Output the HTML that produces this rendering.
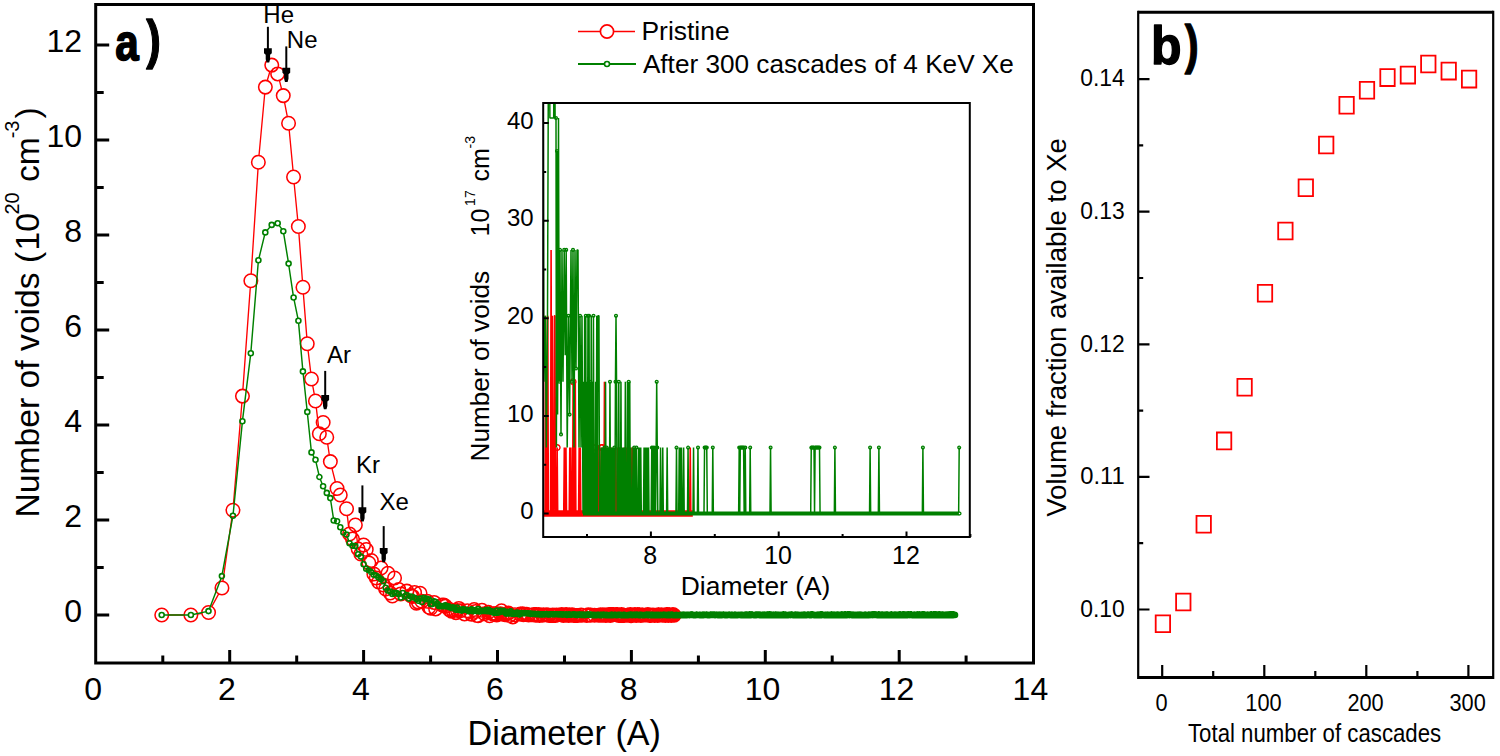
<!DOCTYPE html>
<html><head><meta charset="utf-8"><style>html,body{margin:0;padding:0;background:#fff;width:1500px;height:756px;overflow:hidden}</style></head>
<body>
<svg width="1500" height="756" viewBox="0 0 1500 756" style="display:block;font-family:'Liberation Sans',sans-serif">
<rect width="1500" height="756" fill="#fff"/>
<path d="M168.4 615.0L184.2 615.0M197.5 614.1L201.9 613.4M211.7 606.6L218.7 593.9M222.9 581.4L232.0 516.9M233.5 503.6L241.9 402.8M242.9 389.4L250.3 287.4M251.2 274.0L258.0 168.9M259.0 155.5L264.7 93.8M267.2 80.7L269.9 71.5M279.4 80.4L281.6 89.1M284.5 102.2L287.3 116.7M289.2 130.0L293.0 170.3M294.2 183.7L297.7 219.8M298.9 233.2L302.4 280.5M303.4 293.9L306.8 337.1M308.1 350.5L310.7 372.3M312.7 385.6L314.3 394.4M316.3 407.7L318.6 427.1M324.7 429.0L325.2 430.8M327.7 443.9L329.3 455.0M331.9 468.1L335.4 482.0M343.1 501.1L343.8 502.6M347.3 515.4L348.7 527.3M353.8 532.4L354.0 531.6M356.1 531.7L357.4 542.3M367.5 556.1L367.5 556.4M372.6 567.1L372.6 567.4M379.8 575.4L379.9 574.6M382.0 574.6L382.5 578.4M386.6 582.4L387.0 579.9M388.7 580.0L389.4 586.3M393.1 589.3L393.7 584.7" stroke="#ff0000" stroke-width="1.35" fill="none"/>
<path d="M155.0 615.0a6.75 6.75 0 1 0 13.5 0a6.75 6.75 0 1 0 -13.5 0M184.1 615.0a6.75 6.75 0 1 0 13.5 0a6.75 6.75 0 1 0 -13.5 0M201.8 612.5a6.75 6.75 0 1 0 13.5 0a6.75 6.75 0 1 0 -13.5 0M215.2 588.0a6.75 6.75 0 1 0 13.5 0a6.75 6.75 0 1 0 -13.5 0M226.2 510.3a6.75 6.75 0 1 0 13.5 0a6.75 6.75 0 1 0 -13.5 0M235.7 396.1a6.75 6.75 0 1 0 13.5 0a6.75 6.75 0 1 0 -13.5 0M244.1 280.7a6.75 6.75 0 1 0 13.5 0a6.75 6.75 0 1 0 -13.5 0M251.6 162.2a6.75 6.75 0 1 0 13.5 0a6.75 6.75 0 1 0 -13.5 0M258.6 87.1a6.75 6.75 0 1 0 13.5 0a6.75 6.75 0 1 0 -13.5 0M265.0 65.1a6.75 6.75 0 1 0 13.5 0a6.75 6.75 0 1 0 -13.5 0M270.9 73.9a6.75 6.75 0 1 0 13.5 0a6.75 6.75 0 1 0 -13.5 0M276.5 95.6a6.75 6.75 0 1 0 13.5 0a6.75 6.75 0 1 0 -13.5 0M281.8 123.3a6.75 6.75 0 1 0 13.5 0a6.75 6.75 0 1 0 -13.5 0M286.8 177.0a6.75 6.75 0 1 0 13.5 0a6.75 6.75 0 1 0 -13.5 0M291.6 226.5a6.75 6.75 0 1 0 13.5 0a6.75 6.75 0 1 0 -13.5 0M296.2 287.2a6.75 6.75 0 1 0 13.5 0a6.75 6.75 0 1 0 -13.5 0M300.5 343.8a6.75 6.75 0 1 0 13.5 0a6.75 6.75 0 1 0 -13.5 0M304.7 379.0a6.75 6.75 0 1 0 13.5 0a6.75 6.75 0 1 0 -13.5 0M308.7 401.0a6.75 6.75 0 1 0 13.5 0a6.75 6.75 0 1 0 -13.5 0M312.6 433.8a6.75 6.75 0 1 0 13.5 0a6.75 6.75 0 1 0 -13.5 0M316.4 422.5a6.75 6.75 0 1 0 13.5 0a6.75 6.75 0 1 0 -13.5 0M320.0 437.3a6.75 6.75 0 1 0 13.5 0a6.75 6.75 0 1 0 -13.5 0M323.6 461.6a6.75 6.75 0 1 0 13.5 0a6.75 6.75 0 1 0 -13.5 0M330.3 488.5a6.75 6.75 0 1 0 13.5 0a6.75 6.75 0 1 0 -13.5 0M333.5 495.0a6.75 6.75 0 1 0 13.5 0a6.75 6.75 0 1 0 -13.5 0M339.8 508.7a6.75 6.75 0 1 0 13.5 0a6.75 6.75 0 1 0 -13.5 0M342.8 534.0a6.75 6.75 0 1 0 13.5 0a6.75 6.75 0 1 0 -13.5 0M345.7 539.0a6.75 6.75 0 1 0 13.5 0a6.75 6.75 0 1 0 -13.5 0M348.6 525.0a6.75 6.75 0 1 0 13.5 0a6.75 6.75 0 1 0 -13.5 0M351.4 549.0a6.75 6.75 0 1 0 13.5 0a6.75 6.75 0 1 0 -13.5 0M354.1 554.0a6.75 6.75 0 1 0 13.5 0a6.75 6.75 0 1 0 -13.5 0M356.8 545.0a6.75 6.75 0 1 0 13.5 0a6.75 6.75 0 1 0 -13.5 0M359.5 549.5a6.75 6.75 0 1 0 13.5 0a6.75 6.75 0 1 0 -13.5 0M362.1 563.0a6.75 6.75 0 1 0 13.5 0a6.75 6.75 0 1 0 -13.5 0M364.6 560.5a6.75 6.75 0 1 0 13.5 0a6.75 6.75 0 1 0 -13.5 0M367.1 574.0a6.75 6.75 0 1 0 13.5 0a6.75 6.75 0 1 0 -13.5 0M369.5 578.0a6.75 6.75 0 1 0 13.5 0a6.75 6.75 0 1 0 -13.5 0M371.9 582.0a6.75 6.75 0 1 0 13.5 0a6.75 6.75 0 1 0 -13.5 0M374.3 568.0a6.75 6.75 0 1 0 13.5 0a6.75 6.75 0 1 0 -13.5 0M376.6 585.0a6.75 6.75 0 1 0 13.5 0a6.75 6.75 0 1 0 -13.5 0M378.9 589.0a6.75 6.75 0 1 0 13.5 0a6.75 6.75 0 1 0 -13.5 0M381.2 573.3a6.75 6.75 0 1 0 13.5 0a6.75 6.75 0 1 0 -13.5 0M383.4 593.0a6.75 6.75 0 1 0 13.5 0a6.75 6.75 0 1 0 -13.5 0M385.6 596.0a6.75 6.75 0 1 0 13.5 0a6.75 6.75 0 1 0 -13.5 0M387.8 578.0a6.75 6.75 0 1 0 13.5 0a6.75 6.75 0 1 0 -13.5 0M392.0 589.5a6.75 6.75 0 1 0 13.5 0a6.75 6.75 0 1 0 -13.5 0M394.0 593.9a6.75 6.75 0 1 0 13.5 0a6.75 6.75 0 1 0 -13.5 0M400.1 591.1a6.75 6.75 0 1 0 13.5 0a6.75 6.75 0 1 0 -13.5 0M404.0 595.6a6.75 6.75 0 1 0 13.5 0a6.75 6.75 0 1 0 -13.5 0M405.9 596.4a6.75 6.75 0 1 0 13.5 0a6.75 6.75 0 1 0 -13.5 0M407.8 592.5a6.75 6.75 0 1 0 13.5 0a6.75 6.75 0 1 0 -13.5 0M409.7 603.3a6.75 6.75 0 1 0 13.5 0a6.75 6.75 0 1 0 -13.5 0M411.5 602.1a6.75 6.75 0 1 0 13.5 0a6.75 6.75 0 1 0 -13.5 0M413.3 593.3a6.75 6.75 0 1 0 13.5 0a6.75 6.75 0 1 0 -13.5 0M415.1 601.3a6.75 6.75 0 1 0 13.5 0a6.75 6.75 0 1 0 -13.5 0M420.4 601.2a6.75 6.75 0 1 0 13.5 0a6.75 6.75 0 1 0 -13.5 0M422.2 607.3a6.75 6.75 0 1 0 13.5 0a6.75 6.75 0 1 0 -13.5 0M423.9 608.3a6.75 6.75 0 1 0 13.5 0a6.75 6.75 0 1 0 -13.5 0M427.3 602.4a6.75 6.75 0 1 0 13.5 0a6.75 6.75 0 1 0 -13.5 0M428.9 608.9a6.75 6.75 0 1 0 13.5 0a6.75 6.75 0 1 0 -13.5 0M435.4 605.0a6.75 6.75 0 1 0 13.5 0a6.75 6.75 0 1 0 -13.5 0M437.0 604.9a6.75 6.75 0 1 0 13.5 0a6.75 6.75 0 1 0 -13.5 0M438.6 606.1a6.75 6.75 0 1 0 13.5 0a6.75 6.75 0 1 0 -13.5 0M441.7 608.8a6.75 6.75 0 1 0 13.5 0a6.75 6.75 0 1 0 -13.5 0M443.2 610.1a6.75 6.75 0 1 0 13.5 0a6.75 6.75 0 1 0 -13.5 0M444.7 611.3a6.75 6.75 0 1 0 13.5 0a6.75 6.75 0 1 0 -13.5 0M446.2 610.4a6.75 6.75 0 1 0 13.5 0a6.75 6.75 0 1 0 -13.5 0M449.2 612.6a6.75 6.75 0 1 0 13.5 0a6.75 6.75 0 1 0 -13.5 0M450.7 610.4a6.75 6.75 0 1 0 13.5 0a6.75 6.75 0 1 0 -13.5 0M452.1 608.4a6.75 6.75 0 1 0 13.5 0a6.75 6.75 0 1 0 -13.5 0M453.6 610.8a6.75 6.75 0 1 0 13.5 0a6.75 6.75 0 1 0 -13.5 0M457.8 613.9a6.75 6.75 0 1 0 13.5 0a6.75 6.75 0 1 0 -13.5 0M460.6 610.8a6.75 6.75 0 1 0 13.5 0a6.75 6.75 0 1 0 -13.5 0M464.7 614.1a6.75 6.75 0 1 0 13.5 0a6.75 6.75 0 1 0 -13.5 0M467.4 609.5a6.75 6.75 0 1 0 13.5 0a6.75 6.75 0 1 0 -13.5 0M468.7 611.4a6.75 6.75 0 1 0 13.5 0a6.75 6.75 0 1 0 -13.5 0M470.1 615.5a6.75 6.75 0 1 0 13.5 0a6.75 6.75 0 1 0 -13.5 0M471.4 615.7a6.75 6.75 0 1 0 13.5 0a6.75 6.75 0 1 0 -13.5 0M475.2 610.3a6.75 6.75 0 1 0 13.5 0a6.75 6.75 0 1 0 -13.5 0M477.8 613.8a6.75 6.75 0 1 0 13.5 0a6.75 6.75 0 1 0 -13.5 0M481.5 612.2a6.75 6.75 0 1 0 13.5 0a6.75 6.75 0 1 0 -13.5 0M482.8 615.7a6.75 6.75 0 1 0 13.5 0a6.75 6.75 0 1 0 -13.5 0M485.2 613.5a6.75 6.75 0 1 0 13.5 0a6.75 6.75 0 1 0 -13.5 0M486.4 614.0a6.75 6.75 0 1 0 13.5 0a6.75 6.75 0 1 0 -13.5 0M487.7 614.2a6.75 6.75 0 1 0 13.5 0a6.75 6.75 0 1 0 -13.5 0M488.9 613.6a6.75 6.75 0 1 0 13.5 0a6.75 6.75 0 1 0 -13.5 0M490.0 614.9a6.75 6.75 0 1 0 13.5 0a6.75 6.75 0 1 0 -13.5 0M493.6 613.8a6.75 6.75 0 1 0 13.5 0a6.75 6.75 0 1 0 -13.5 0M494.7 610.8a6.75 6.75 0 1 0 13.5 0a6.75 6.75 0 1 0 -13.5 0M495.9 614.2a6.75 6.75 0 1 0 13.5 0a6.75 6.75 0 1 0 -13.5 0M498.2 614.6a6.75 6.75 0 1 0 13.5 0a6.75 6.75 0 1 0 -13.5 0M500.5 613.7a6.75 6.75 0 1 0 13.5 0a6.75 6.75 0 1 0 -13.5 0M501.6 613.1a6.75 6.75 0 1 0 13.5 0a6.75 6.75 0 1 0 -13.5 0M502.7 615.4a6.75 6.75 0 1 0 13.5 0a6.75 6.75 0 1 0 -13.5 0M506.0 616.9a6.75 6.75 0 1 0 13.5 0a6.75 6.75 0 1 0 -13.5 0M508.2 614.7a6.75 6.75 0 1 0 13.5 0a6.75 6.75 0 1 0 -13.5 0M513.6 614.1a6.75 6.75 0 1 0 13.5 0a6.75 6.75 0 1 0 -13.5 0M515.7 613.8a6.75 6.75 0 1 0 13.5 0a6.75 6.75 0 1 0 -13.5 0M516.7 614.7a6.75 6.75 0 1 0 13.5 0a6.75 6.75 0 1 0 -13.5 0M519.9 614.2a6.75 6.75 0 1 0 13.5 0a6.75 6.75 0 1 0 -13.5 0M521.9 614.9a6.75 6.75 0 1 0 13.5 0a6.75 6.75 0 1 0 -13.5 0M525.9 614.7a6.75 6.75 0 1 0 13.5 0a6.75 6.75 0 1 0 -13.5 0M526.9 614.4a6.75 6.75 0 1 0 13.5 0a6.75 6.75 0 1 0 -13.5 0M528.9 615.3a6.75 6.75 0 1 0 13.5 0a6.75 6.75 0 1 0 -13.5 0M529.9 614.6a6.75 6.75 0 1 0 13.5 0a6.75 6.75 0 1 0 -13.5 0M531.9 614.6a6.75 6.75 0 1 0 13.5 0a6.75 6.75 0 1 0 -13.5 0M532.8 615.4a6.75 6.75 0 1 0 13.5 0a6.75 6.75 0 1 0 -13.5 0M535.7 615.2a6.75 6.75 0 1 0 13.5 0a6.75 6.75 0 1 0 -13.5 0M536.7 614.8a6.75 6.75 0 1 0 13.5 0a6.75 6.75 0 1 0 -13.5 0M539.5 614.7a6.75 6.75 0 1 0 13.5 0a6.75 6.75 0 1 0 -13.5 0M541.4 614.9a6.75 6.75 0 1 0 13.5 0a6.75 6.75 0 1 0 -13.5 0M542.3 615.5a6.75 6.75 0 1 0 13.5 0a6.75 6.75 0 1 0 -13.5 0M545.1 615.5a6.75 6.75 0 1 0 13.5 0a6.75 6.75 0 1 0 -13.5 0M546.0 614.9a6.75 6.75 0 1 0 13.5 0a6.75 6.75 0 1 0 -13.5 0M546.9 615.5a6.75 6.75 0 1 0 13.5 0a6.75 6.75 0 1 0 -13.5 0M548.8 615.4a6.75 6.75 0 1 0 13.5 0a6.75 6.75 0 1 0 -13.5 0M549.7 615.0a6.75 6.75 0 1 0 13.5 0a6.75 6.75 0 1 0 -13.5 0M554.1 614.7a6.75 6.75 0 1 0 13.5 0a6.75 6.75 0 1 0 -13.5 0M555.0 614.5a6.75 6.75 0 1 0 13.5 0a6.75 6.75 0 1 0 -13.5 0M555.9 615.2a6.75 6.75 0 1 0 13.5 0a6.75 6.75 0 1 0 -13.5 0M556.7 615.5a6.75 6.75 0 1 0 13.5 0a6.75 6.75 0 1 0 -13.5 0M557.6 615.1a6.75 6.75 0 1 0 13.5 0a6.75 6.75 0 1 0 -13.5 0M559.4 614.6a6.75 6.75 0 1 0 13.5 0a6.75 6.75 0 1 0 -13.5 0M561.1 615.0a6.75 6.75 0 1 0 13.5 0a6.75 6.75 0 1 0 -13.5 0M561.9 615.5a6.75 6.75 0 1 0 13.5 0a6.75 6.75 0 1 0 -13.5 0M562.8 614.8a6.75 6.75 0 1 0 13.5 0a6.75 6.75 0 1 0 -13.5 0M564.5 615.0a6.75 6.75 0 1 0 13.5 0a6.75 6.75 0 1 0 -13.5 0M565.3 614.8a6.75 6.75 0 1 0 13.5 0a6.75 6.75 0 1 0 -13.5 0M567.0 615.4a6.75 6.75 0 1 0 13.5 0a6.75 6.75 0 1 0 -13.5 0M568.7 615.5a6.75 6.75 0 1 0 13.5 0a6.75 6.75 0 1 0 -13.5 0M569.5 615.4a6.75 6.75 0 1 0 13.5 0a6.75 6.75 0 1 0 -13.5 0M571.1 615.4a6.75 6.75 0 1 0 13.5 0a6.75 6.75 0 1 0 -13.5 0M574.4 614.9a6.75 6.75 0 1 0 13.5 0a6.75 6.75 0 1 0 -13.5 0M575.2 615.3a6.75 6.75 0 1 0 13.5 0a6.75 6.75 0 1 0 -13.5 0M580.0 615.4a6.75 6.75 0 1 0 13.5 0a6.75 6.75 0 1 0 -13.5 0M581.6 614.8a6.75 6.75 0 1 0 13.5 0a6.75 6.75 0 1 0 -13.5 0M584.0 615.1a6.75 6.75 0 1 0 13.5 0a6.75 6.75 0 1 0 -13.5 0M587.8 615.3a6.75 6.75 0 1 0 13.5 0a6.75 6.75 0 1 0 -13.5 0M591.6 615.3a6.75 6.75 0 1 0 13.5 0a6.75 6.75 0 1 0 -13.5 0M593.1 615.1a6.75 6.75 0 1 0 13.5 0a6.75 6.75 0 1 0 -13.5 0M593.9 614.8a6.75 6.75 0 1 0 13.5 0a6.75 6.75 0 1 0 -13.5 0M594.6 615.2a6.75 6.75 0 1 0 13.5 0a6.75 6.75 0 1 0 -13.5 0M595.4 615.2a6.75 6.75 0 1 0 13.5 0a6.75 6.75 0 1 0 -13.5 0M596.1 614.7a6.75 6.75 0 1 0 13.5 0a6.75 6.75 0 1 0 -13.5 0M596.9 615.2a6.75 6.75 0 1 0 13.5 0a6.75 6.75 0 1 0 -13.5 0M598.4 614.9a6.75 6.75 0 1 0 13.5 0a6.75 6.75 0 1 0 -13.5 0M599.1 615.5a6.75 6.75 0 1 0 13.5 0a6.75 6.75 0 1 0 -13.5 0M600.6 615.3a6.75 6.75 0 1 0 13.5 0a6.75 6.75 0 1 0 -13.5 0M602.0 614.5a6.75 6.75 0 1 0 13.5 0a6.75 6.75 0 1 0 -13.5 0M602.7 615.2a6.75 6.75 0 1 0 13.5 0a6.75 6.75 0 1 0 -13.5 0M603.5 615.4a6.75 6.75 0 1 0 13.5 0a6.75 6.75 0 1 0 -13.5 0M604.2 615.3a6.75 6.75 0 1 0 13.5 0a6.75 6.75 0 1 0 -13.5 0M604.9 614.5a6.75 6.75 0 1 0 13.5 0a6.75 6.75 0 1 0 -13.5 0M605.6 614.4a6.75 6.75 0 1 0 13.5 0a6.75 6.75 0 1 0 -13.5 0M607.0 614.5a6.75 6.75 0 1 0 13.5 0a6.75 6.75 0 1 0 -13.5 0M609.2 614.6a6.75 6.75 0 1 0 13.5 0a6.75 6.75 0 1 0 -13.5 0M610.6 614.5a6.75 6.75 0 1 0 13.5 0a6.75 6.75 0 1 0 -13.5 0M611.3 615.2a6.75 6.75 0 1 0 13.5 0a6.75 6.75 0 1 0 -13.5 0M612.0 615.5a6.75 6.75 0 1 0 13.5 0a6.75 6.75 0 1 0 -13.5 0M612.7 615.4a6.75 6.75 0 1 0 13.5 0a6.75 6.75 0 1 0 -13.5 0M614.1 615.0a6.75 6.75 0 1 0 13.5 0a6.75 6.75 0 1 0 -13.5 0M614.8 614.5a6.75 6.75 0 1 0 13.5 0a6.75 6.75 0 1 0 -13.5 0M615.5 615.5a6.75 6.75 0 1 0 13.5 0a6.75 6.75 0 1 0 -13.5 0M617.5 615.4a6.75 6.75 0 1 0 13.5 0a6.75 6.75 0 1 0 -13.5 0M620.2 615.3a6.75 6.75 0 1 0 13.5 0a6.75 6.75 0 1 0 -13.5 0M623.6 614.5a6.75 6.75 0 1 0 13.5 0a6.75 6.75 0 1 0 -13.5 0M624.3 615.6a6.75 6.75 0 1 0 13.5 0a6.75 6.75 0 1 0 -13.5 0M624.9 615.3a6.75 6.75 0 1 0 13.5 0a6.75 6.75 0 1 0 -13.5 0M626.3 615.3a6.75 6.75 0 1 0 13.5 0a6.75 6.75 0 1 0 -13.5 0M626.9 615.0a6.75 6.75 0 1 0 13.5 0a6.75 6.75 0 1 0 -13.5 0M627.6 615.2a6.75 6.75 0 1 0 13.5 0a6.75 6.75 0 1 0 -13.5 0M628.2 614.6a6.75 6.75 0 1 0 13.5 0a6.75 6.75 0 1 0 -13.5 0M629.5 615.5a6.75 6.75 0 1 0 13.5 0a6.75 6.75 0 1 0 -13.5 0M630.2 614.9a6.75 6.75 0 1 0 13.5 0a6.75 6.75 0 1 0 -13.5 0M630.9 614.6a6.75 6.75 0 1 0 13.5 0a6.75 6.75 0 1 0 -13.5 0M632.8 614.8a6.75 6.75 0 1 0 13.5 0a6.75 6.75 0 1 0 -13.5 0M634.1 615.5a6.75 6.75 0 1 0 13.5 0a6.75 6.75 0 1 0 -13.5 0M635.4 614.9a6.75 6.75 0 1 0 13.5 0a6.75 6.75 0 1 0 -13.5 0M636.0 615.1a6.75 6.75 0 1 0 13.5 0a6.75 6.75 0 1 0 -13.5 0M638.6 614.9a6.75 6.75 0 1 0 13.5 0a6.75 6.75 0 1 0 -13.5 0M641.1 614.6a6.75 6.75 0 1 0 13.5 0a6.75 6.75 0 1 0 -13.5 0M641.7 615.0a6.75 6.75 0 1 0 13.5 0a6.75 6.75 0 1 0 -13.5 0M642.3 615.0a6.75 6.75 0 1 0 13.5 0a6.75 6.75 0 1 0 -13.5 0M642.9 615.4a6.75 6.75 0 1 0 13.5 0a6.75 6.75 0 1 0 -13.5 0M643.6 615.0a6.75 6.75 0 1 0 13.5 0a6.75 6.75 0 1 0 -13.5 0M644.2 615.4a6.75 6.75 0 1 0 13.5 0a6.75 6.75 0 1 0 -13.5 0M644.8 615.3a6.75 6.75 0 1 0 13.5 0a6.75 6.75 0 1 0 -13.5 0M645.4 615.0a6.75 6.75 0 1 0 13.5 0a6.75 6.75 0 1 0 -13.5 0M647.3 615.2a6.75 6.75 0 1 0 13.5 0a6.75 6.75 0 1 0 -13.5 0M647.9 615.4a6.75 6.75 0 1 0 13.5 0a6.75 6.75 0 1 0 -13.5 0M650.9 615.4a6.75 6.75 0 1 0 13.5 0a6.75 6.75 0 1 0 -13.5 0M651.5 614.7a6.75 6.75 0 1 0 13.5 0a6.75 6.75 0 1 0 -13.5 0M652.1 614.8a6.75 6.75 0 1 0 13.5 0a6.75 6.75 0 1 0 -13.5 0M652.7 615.3a6.75 6.75 0 1 0 13.5 0a6.75 6.75 0 1 0 -13.5 0M654.5 614.8a6.75 6.75 0 1 0 13.5 0a6.75 6.75 0 1 0 -13.5 0M655.7 615.2a6.75 6.75 0 1 0 13.5 0a6.75 6.75 0 1 0 -13.5 0M657.5 615.0a6.75 6.75 0 1 0 13.5 0a6.75 6.75 0 1 0 -13.5 0M658.7 615.5a6.75 6.75 0 1 0 13.5 0a6.75 6.75 0 1 0 -13.5 0M659.9 614.5a6.75 6.75 0 1 0 13.5 0a6.75 6.75 0 1 0 -13.5 0M661.0 614.5a6.75 6.75 0 1 0 13.5 0a6.75 6.75 0 1 0 -13.5 0M661.6 615.5a6.75 6.75 0 1 0 13.5 0a6.75 6.75 0 1 0 -13.5 0M662.8 614.8a6.75 6.75 0 1 0 13.5 0a6.75 6.75 0 1 0 -13.5 0M663.4 615.3a6.75 6.75 0 1 0 13.5 0a6.75 6.75 0 1 0 -13.5 0M663.9 615.2a6.75 6.75 0 1 0 13.5 0a6.75 6.75 0 1 0 -13.5 0M664.5 615.4a6.75 6.75 0 1 0 13.5 0a6.75 6.75 0 1 0 -13.5 0M665.1 615.3a6.75 6.75 0 1 0 13.5 0a6.75 6.75 0 1 0 -13.5 0M665.7 615.2a6.75 6.75 0 1 0 13.5 0a6.75 6.75 0 1 0 -13.5 0M666.2 614.5a6.75 6.75 0 1 0 13.5 0a6.75 6.75 0 1 0 -13.5 0M666.8 614.8a6.75 6.75 0 1 0 13.5 0a6.75 6.75 0 1 0 -13.5 0M667.4 615.2a6.75 6.75 0 1 0 13.5 0a6.75 6.75 0 1 0 -13.5 0" stroke="#ff0000" stroke-width="1.55" fill="none"/>
<path d="M164.1 615.0L188.5 615.0M193.2 614.5L206.2 611.6M209.4 608.9L221.1 578.3M222.3 573.7L232.5 518.2M233.2 513.4L242.2 423.6M242.7 418.8L250.5 355.6M251.0 350.8L258.2 262.7M259.0 258.0L264.7 234.7M266.9 230.6L270.2 226.7M274.0 224.3L275.4 223.9M279.1 225.3L281.9 229.2M283.7 233.6L288.2 261.2M288.9 266.0L293.2 295.1M294.1 299.9L297.9 318.3M298.6 323.1L302.7 369.0M303.2 373.8L307.0 409.5M307.5 414.3L311.2 450.0M312.6 454.5L314.3 457.7M316.0 462.1L318.9 474.7M320.3 479.2L322.2 484.0M324.3 488.3L325.6 490.8M328.1 494.9L329.0 496.1M330.7 500.5L333.4 518.1M338.2 523.3L339.2 525.2M341.5 529.4L342.2 530.5M347.3 536.8L348.7 540.9M356.1 548.3L357.4 552.0M361.7 558.8L362.8 562.0M364.8 566.4L365.0 566.7M384.2 583.5L384.9 585.5M401.8 595.3L401.8 595.2M429.8 601.6L429.8 601.7" stroke="#008000" stroke-width="1.45" fill="none"/>
<path d="M159.2 615.0a2.5 2.5 0 1 0 5.0 0a2.5 2.5 0 1 0 -5.0 0M188.4 615.0a2.5 2.5 0 1 0 5.0 0a2.5 2.5 0 1 0 -5.0 0M206.0 611.1a2.5 2.5 0 1 0 5.0 0a2.5 2.5 0 1 0 -5.0 0M219.4 576.1a2.5 2.5 0 1 0 5.0 0a2.5 2.5 0 1 0 -5.0 0M230.4 515.8a2.5 2.5 0 1 0 5.0 0a2.5 2.5 0 1 0 -5.0 0M239.9 421.2a2.5 2.5 0 1 0 5.0 0a2.5 2.5 0 1 0 -5.0 0M248.3 353.2a2.5 2.5 0 1 0 5.0 0a2.5 2.5 0 1 0 -5.0 0M255.9 260.3a2.5 2.5 0 1 0 5.0 0a2.5 2.5 0 1 0 -5.0 0M262.8 232.4a2.5 2.5 0 1 0 5.0 0a2.5 2.5 0 1 0 -5.0 0M269.2 224.9a2.5 2.5 0 1 0 5.0 0a2.5 2.5 0 1 0 -5.0 0M275.2 223.3a2.5 2.5 0 1 0 5.0 0a2.5 2.5 0 1 0 -5.0 0M280.8 231.2a2.5 2.5 0 1 0 5.0 0a2.5 2.5 0 1 0 -5.0 0M286.1 263.6a2.5 2.5 0 1 0 5.0 0a2.5 2.5 0 1 0 -5.0 0M291.1 297.5a2.5 2.5 0 1 0 5.0 0a2.5 2.5 0 1 0 -5.0 0M295.9 320.7a2.5 2.5 0 1 0 5.0 0a2.5 2.5 0 1 0 -5.0 0M300.4 371.4a2.5 2.5 0 1 0 5.0 0a2.5 2.5 0 1 0 -5.0 0M304.8 411.9a2.5 2.5 0 1 0 5.0 0a2.5 2.5 0 1 0 -5.0 0M309.0 452.4a2.5 2.5 0 1 0 5.0 0a2.5 2.5 0 1 0 -5.0 0M313.0 459.8a2.5 2.5 0 1 0 5.0 0a2.5 2.5 0 1 0 -5.0 0M316.9 477.0a2.5 2.5 0 1 0 5.0 0a2.5 2.5 0 1 0 -5.0 0M320.6 486.2a2.5 2.5 0 1 0 5.0 0a2.5 2.5 0 1 0 -5.0 0M324.3 492.9a2.5 2.5 0 1 0 5.0 0a2.5 2.5 0 1 0 -5.0 0M327.8 498.1a2.5 2.5 0 1 0 5.0 0a2.5 2.5 0 1 0 -5.0 0M331.2 520.5a2.5 2.5 0 1 0 5.0 0a2.5 2.5 0 1 0 -5.0 0M334.6 521.2a2.5 2.5 0 1 0 5.0 0a2.5 2.5 0 1 0 -5.0 0M337.8 527.3a2.5 2.5 0 1 0 5.0 0a2.5 2.5 0 1 0 -5.0 0M340.9 532.5a2.5 2.5 0 1 0 5.0 0a2.5 2.5 0 1 0 -5.0 0M344.0 534.5a2.5 2.5 0 1 0 5.0 0a2.5 2.5 0 1 0 -5.0 0M347.0 543.2a2.5 2.5 0 1 0 5.0 0a2.5 2.5 0 1 0 -5.0 0M350.0 545.8a2.5 2.5 0 1 0 5.0 0a2.5 2.5 0 1 0 -5.0 0M352.8 546.1a2.5 2.5 0 1 0 5.0 0a2.5 2.5 0 1 0 -5.0 0M355.6 554.3a2.5 2.5 0 1 0 5.0 0a2.5 2.5 0 1 0 -5.0 0M358.4 556.6a2.5 2.5 0 1 0 5.0 0a2.5 2.5 0 1 0 -5.0 0M361.1 564.3a2.5 2.5 0 1 0 5.0 0a2.5 2.5 0 1 0 -5.0 0M363.7 568.8a2.5 2.5 0 1 0 5.0 0a2.5 2.5 0 1 0 -5.0 0M366.3 570.2a2.5 2.5 0 1 0 5.0 0a2.5 2.5 0 1 0 -5.0 0M368.8 572.1a2.5 2.5 0 1 0 5.0 0a2.5 2.5 0 1 0 -5.0 0M371.3 574.7a2.5 2.5 0 1 0 5.0 0a2.5 2.5 0 1 0 -5.0 0M373.8 575.6a2.5 2.5 0 1 0 5.0 0a2.5 2.5 0 1 0 -5.0 0M376.2 577.4a2.5 2.5 0 1 0 5.0 0a2.5 2.5 0 1 0 -5.0 0M378.6 579.2a2.5 2.5 0 1 0 5.0 0a2.5 2.5 0 1 0 -5.0 0M380.9 581.2a2.5 2.5 0 1 0 5.0 0a2.5 2.5 0 1 0 -5.0 0M383.2 587.7a2.5 2.5 0 1 0 5.0 0a2.5 2.5 0 1 0 -5.0 0M385.4 590.5a2.5 2.5 0 1 0 5.0 0a2.5 2.5 0 1 0 -5.0 0M387.7 591.5a2.5 2.5 0 1 0 5.0 0a2.5 2.5 0 1 0 -5.0 0M389.8 593.9a2.5 2.5 0 1 0 5.0 0a2.5 2.5 0 1 0 -5.0 0M392.0 592.9a2.5 2.5 0 1 0 5.0 0a2.5 2.5 0 1 0 -5.0 0M394.1 593.0a2.5 2.5 0 1 0 5.0 0a2.5 2.5 0 1 0 -5.0 0M396.2 594.1a2.5 2.5 0 1 0 5.0 0a2.5 2.5 0 1 0 -5.0 0M398.3 597.5a2.5 2.5 0 1 0 5.0 0a2.5 2.5 0 1 0 -5.0 0M400.3 593.0a2.5 2.5 0 1 0 5.0 0a2.5 2.5 0 1 0 -5.0 0M402.3 596.2a2.5 2.5 0 1 0 5.0 0a2.5 2.5 0 1 0 -5.0 0M404.3 595.1a2.5 2.5 0 1 0 5.0 0a2.5 2.5 0 1 0 -5.0 0M406.3 598.6a2.5 2.5 0 1 0 5.0 0a2.5 2.5 0 1 0 -5.0 0M408.2 596.6a2.5 2.5 0 1 0 5.0 0a2.5 2.5 0 1 0 -5.0 0M410.1 596.8a2.5 2.5 0 1 0 5.0 0a2.5 2.5 0 1 0 -5.0 0M412.0 597.7a2.5 2.5 0 1 0 5.0 0a2.5 2.5 0 1 0 -5.0 0M413.9 598.9a2.5 2.5 0 1 0 5.0 0a2.5 2.5 0 1 0 -5.0 0M415.8 600.7a2.5 2.5 0 1 0 5.0 0a2.5 2.5 0 1 0 -5.0 0M417.6 598.6a2.5 2.5 0 1 0 5.0 0a2.5 2.5 0 1 0 -5.0 0M419.4 601.9a2.5 2.5 0 1 0 5.0 0a2.5 2.5 0 1 0 -5.0 0M421.2 597.9a2.5 2.5 0 1 0 5.0 0a2.5 2.5 0 1 0 -5.0 0M422.9 599.3a2.5 2.5 0 1 0 5.0 0a2.5 2.5 0 1 0 -5.0 0M424.7 598.8a2.5 2.5 0 1 0 5.0 0a2.5 2.5 0 1 0 -5.0 0M426.4 599.4a2.5 2.5 0 1 0 5.0 0a2.5 2.5 0 1 0 -5.0 0M428.1 603.9a2.5 2.5 0 1 0 5.0 0a2.5 2.5 0 1 0 -5.0 0M429.8 604.1a2.5 2.5 0 1 0 5.0 0a2.5 2.5 0 1 0 -5.0 0M431.5 601.3a2.5 2.5 0 1 0 5.0 0a2.5 2.5 0 1 0 -5.0 0M433.2 601.8a2.5 2.5 0 1 0 5.0 0a2.5 2.5 0 1 0 -5.0 0M434.8 603.7a2.5 2.5 0 1 0 5.0 0a2.5 2.5 0 1 0 -5.0 0M436.4 606.1a2.5 2.5 0 1 0 5.0 0a2.5 2.5 0 1 0 -5.0 0M438.1 606.1a2.5 2.5 0 1 0 5.0 0a2.5 2.5 0 1 0 -5.0 0M439.7 606.3a2.5 2.5 0 1 0 5.0 0a2.5 2.5 0 1 0 -5.0 0M441.2 606.3a2.5 2.5 0 1 0 5.0 0a2.5 2.5 0 1 0 -5.0 0M442.8 605.3a2.5 2.5 0 1 0 5.0 0a2.5 2.5 0 1 0 -5.0 0M444.4 606.5a2.5 2.5 0 1 0 5.0 0a2.5 2.5 0 1 0 -5.0 0M445.9 606.2a2.5 2.5 0 1 0 5.0 0a2.5 2.5 0 1 0 -5.0 0M447.5 607.6a2.5 2.5 0 1 0 5.0 0a2.5 2.5 0 1 0 -5.0 0M449.0 608.1a2.5 2.5 0 1 0 5.0 0a2.5 2.5 0 1 0 -5.0 0M450.5 607.4a2.5 2.5 0 1 0 5.0 0a2.5 2.5 0 1 0 -5.0 0M452.0 607.9a2.5 2.5 0 1 0 5.0 0a2.5 2.5 0 1 0 -5.0 0M453.4 609.7a2.5 2.5 0 1 0 5.0 0a2.5 2.5 0 1 0 -5.0 0M454.9 607.5a2.5 2.5 0 1 0 5.0 0a2.5 2.5 0 1 0 -5.0 0M456.4 609.9a2.5 2.5 0 1 0 5.0 0a2.5 2.5 0 1 0 -5.0 0M457.8 610.3a2.5 2.5 0 1 0 5.0 0a2.5 2.5 0 1 0 -5.0 0M459.2 610.6a2.5 2.5 0 1 0 5.0 0a2.5 2.5 0 1 0 -5.0 0M460.7 609.0a2.5 2.5 0 1 0 5.0 0a2.5 2.5 0 1 0 -5.0 0M462.1 609.6a2.5 2.5 0 1 0 5.0 0a2.5 2.5 0 1 0 -5.0 0M463.5 609.8a2.5 2.5 0 1 0 5.0 0a2.5 2.5 0 1 0 -5.0 0M464.9 610.1a2.5 2.5 0 1 0 5.0 0a2.5 2.5 0 1 0 -5.0 0M466.2 611.2a2.5 2.5 0 1 0 5.0 0a2.5 2.5 0 1 0 -5.0 0M467.6 610.5a2.5 2.5 0 1 0 5.0 0a2.5 2.5 0 1 0 -5.0 0M469.0 609.4a2.5 2.5 0 1 0 5.0 0a2.5 2.5 0 1 0 -5.0 0M470.3 611.2a2.5 2.5 0 1 0 5.0 0a2.5 2.5 0 1 0 -5.0 0M471.7 610.2a2.5 2.5 0 1 0 5.0 0a2.5 2.5 0 1 0 -5.0 0M473.0 610.6a2.5 2.5 0 1 0 5.0 0a2.5 2.5 0 1 0 -5.0 0M474.3 611.1a2.5 2.5 0 1 0 5.0 0a2.5 2.5 0 1 0 -5.0 0M475.6 609.1a2.5 2.5 0 1 0 5.0 0a2.5 2.5 0 1 0 -5.0 0M476.9 611.5a2.5 2.5 0 1 0 5.0 0a2.5 2.5 0 1 0 -5.0 0M478.2 611.2a2.5 2.5 0 1 0 5.0 0a2.5 2.5 0 1 0 -5.0 0M479.5 610.8a2.5 2.5 0 1 0 5.0 0a2.5 2.5 0 1 0 -5.0 0M480.8 611.0a2.5 2.5 0 1 0 5.0 0a2.5 2.5 0 1 0 -5.0 0M482.0 610.9a2.5 2.5 0 1 0 5.0 0a2.5 2.5 0 1 0 -5.0 0M483.3 610.1a2.5 2.5 0 1 0 5.0 0a2.5 2.5 0 1 0 -5.0 0M484.6 611.2a2.5 2.5 0 1 0 5.0 0a2.5 2.5 0 1 0 -5.0 0M485.8 609.8a2.5 2.5 0 1 0 5.0 0a2.5 2.5 0 1 0 -5.0 0M487.0 611.3a2.5 2.5 0 1 0 5.0 0a2.5 2.5 0 1 0 -5.0 0M488.3 611.8a2.5 2.5 0 1 0 5.0 0a2.5 2.5 0 1 0 -5.0 0M489.5 611.3a2.5 2.5 0 1 0 5.0 0a2.5 2.5 0 1 0 -5.0 0M490.7 611.7a2.5 2.5 0 1 0 5.0 0a2.5 2.5 0 1 0 -5.0 0M491.9 612.9a2.5 2.5 0 1 0 5.0 0a2.5 2.5 0 1 0 -5.0 0M493.1 612.8a2.5 2.5 0 1 0 5.0 0a2.5 2.5 0 1 0 -5.0 0M494.3 610.6a2.5 2.5 0 1 0 5.0 0a2.5 2.5 0 1 0 -5.0 0M495.5 612.7a2.5 2.5 0 1 0 5.0 0a2.5 2.5 0 1 0 -5.0 0M496.7 612.2a2.5 2.5 0 1 0 5.0 0a2.5 2.5 0 1 0 -5.0 0M497.8 610.6a2.5 2.5 0 1 0 5.0 0a2.5 2.5 0 1 0 -5.0 0M499.0 611.6a2.5 2.5 0 1 0 5.0 0a2.5 2.5 0 1 0 -5.0 0M500.1 611.3a2.5 2.5 0 1 0 5.0 0a2.5 2.5 0 1 0 -5.0 0M501.3 610.9a2.5 2.5 0 1 0 5.0 0a2.5 2.5 0 1 0 -5.0 0M502.4 612.3a2.5 2.5 0 1 0 5.0 0a2.5 2.5 0 1 0 -5.0 0M503.6 613.6a2.5 2.5 0 1 0 5.0 0a2.5 2.5 0 1 0 -5.0 0M504.7 611.8a2.5 2.5 0 1 0 5.0 0a2.5 2.5 0 1 0 -5.0 0M505.8 613.5a2.5 2.5 0 1 0 5.0 0a2.5 2.5 0 1 0 -5.0 0M507.0 613.1a2.5 2.5 0 1 0 5.0 0a2.5 2.5 0 1 0 -5.0 0M508.1 611.4a2.5 2.5 0 1 0 5.0 0a2.5 2.5 0 1 0 -5.0 0M509.2 613.7a2.5 2.5 0 1 0 5.0 0a2.5 2.5 0 1 0 -5.0 0M510.3 613.0a2.5 2.5 0 1 0 5.0 0a2.5 2.5 0 1 0 -5.0 0M511.4 614.0a2.5 2.5 0 1 0 5.0 0a2.5 2.5 0 1 0 -5.0 0M512.5 613.4a2.5 2.5 0 1 0 5.0 0a2.5 2.5 0 1 0 -5.0 0M513.6 613.6a2.5 2.5 0 1 0 5.0 0a2.5 2.5 0 1 0 -5.0 0M514.6 612.5a2.5 2.5 0 1 0 5.0 0a2.5 2.5 0 1 0 -5.0 0M515.7 613.9a2.5 2.5 0 1 0 5.0 0a2.5 2.5 0 1 0 -5.0 0M516.8 614.4a2.5 2.5 0 1 0 5.0 0a2.5 2.5 0 1 0 -5.0 0M517.8 613.3a2.5 2.5 0 1 0 5.0 0a2.5 2.5 0 1 0 -5.0 0M518.9 613.1a2.5 2.5 0 1 0 5.0 0a2.5 2.5 0 1 0 -5.0 0M519.9 613.4a2.5 2.5 0 1 0 5.0 0a2.5 2.5 0 1 0 -5.0 0M521.0 613.3a2.5 2.5 0 1 0 5.0 0a2.5 2.5 0 1 0 -5.0 0M522.0 613.1a2.5 2.5 0 1 0 5.0 0a2.5 2.5 0 1 0 -5.0 0M523.1 613.2a2.5 2.5 0 1 0 5.0 0a2.5 2.5 0 1 0 -5.0 0M524.1 613.2a2.5 2.5 0 1 0 5.0 0a2.5 2.5 0 1 0 -5.0 0M525.1 613.4a2.5 2.5 0 1 0 5.0 0a2.5 2.5 0 1 0 -5.0 0M526.2 613.4a2.5 2.5 0 1 0 5.0 0a2.5 2.5 0 1 0 -5.0 0M527.2 613.7a2.5 2.5 0 1 0 5.0 0a2.5 2.5 0 1 0 -5.0 0M528.2 613.9a2.5 2.5 0 1 0 5.0 0a2.5 2.5 0 1 0 -5.0 0M529.2 613.8a2.5 2.5 0 1 0 5.0 0a2.5 2.5 0 1 0 -5.0 0M530.2 613.8a2.5 2.5 0 1 0 5.0 0a2.5 2.5 0 1 0 -5.0 0M531.2 614.0a2.5 2.5 0 1 0 5.0 0a2.5 2.5 0 1 0 -5.0 0M532.2 613.9a2.5 2.5 0 1 0 5.0 0a2.5 2.5 0 1 0 -5.0 0M533.2 614.0a2.5 2.5 0 1 0 5.0 0a2.5 2.5 0 1 0 -5.0 0M534.2 614.3a2.5 2.5 0 1 0 5.0 0a2.5 2.5 0 1 0 -5.0 0M535.1 614.1a2.5 2.5 0 1 0 5.0 0a2.5 2.5 0 1 0 -5.0 0M536.1 614.0a2.5 2.5 0 1 0 5.0 0a2.5 2.5 0 1 0 -5.0 0M537.1 614.5a2.5 2.5 0 1 0 5.0 0a2.5 2.5 0 1 0 -5.0 0M538.1 614.4a2.5 2.5 0 1 0 5.0 0a2.5 2.5 0 1 0 -5.0 0M539.0 614.2a2.5 2.5 0 1 0 5.0 0a2.5 2.5 0 1 0 -5.0 0M540.0 614.3a2.5 2.5 0 1 0 5.0 0a2.5 2.5 0 1 0 -5.0 0M540.9 614.4a2.5 2.5 0 1 0 5.0 0a2.5 2.5 0 1 0 -5.0 0M541.9 614.4a2.5 2.5 0 1 0 5.0 0a2.5 2.5 0 1 0 -5.0 0M542.8 614.2a2.5 2.5 0 1 0 5.0 0a2.5 2.5 0 1 0 -5.0 0M543.8 614.1a2.5 2.5 0 1 0 5.0 0a2.5 2.5 0 1 0 -5.0 0M544.7 614.2a2.5 2.5 0 1 0 5.0 0a2.5 2.5 0 1 0 -5.0 0M545.7 614.6a2.5 2.5 0 1 0 5.0 0a2.5 2.5 0 1 0 -5.0 0M546.6 614.2a2.5 2.5 0 1 0 5.0 0a2.5 2.5 0 1 0 -5.0 0M547.5 614.4a2.5 2.5 0 1 0 5.0 0a2.5 2.5 0 1 0 -5.0 0M548.4 614.2a2.5 2.5 0 1 0 5.0 0a2.5 2.5 0 1 0 -5.0 0M549.4 614.3a2.5 2.5 0 1 0 5.0 0a2.5 2.5 0 1 0 -5.0 0M550.3 614.3a2.5 2.5 0 1 0 5.0 0a2.5 2.5 0 1 0 -5.0 0M551.2 614.4a2.5 2.5 0 1 0 5.0 0a2.5 2.5 0 1 0 -5.0 0M552.1 614.3a2.5 2.5 0 1 0 5.0 0a2.5 2.5 0 1 0 -5.0 0M553.0 614.2a2.5 2.5 0 1 0 5.0 0a2.5 2.5 0 1 0 -5.0 0M553.9 614.3a2.5 2.5 0 1 0 5.0 0a2.5 2.5 0 1 0 -5.0 0M554.8 614.3a2.5 2.5 0 1 0 5.0 0a2.5 2.5 0 1 0 -5.0 0M555.7 614.5a2.5 2.5 0 1 0 5.0 0a2.5 2.5 0 1 0 -5.0 0M556.6 614.3a2.5 2.5 0 1 0 5.0 0a2.5 2.5 0 1 0 -5.0 0M557.5 614.2a2.5 2.5 0 1 0 5.0 0a2.5 2.5 0 1 0 -5.0 0M558.4 614.5a2.5 2.5 0 1 0 5.0 0a2.5 2.5 0 1 0 -5.0 0M559.2 614.5a2.5 2.5 0 1 0 5.0 0a2.5 2.5 0 1 0 -5.0 0M560.1 614.7a2.5 2.5 0 1 0 5.0 0a2.5 2.5 0 1 0 -5.0 0M561.0 614.3a2.5 2.5 0 1 0 5.0 0a2.5 2.5 0 1 0 -5.0 0M561.9 614.5a2.5 2.5 0 1 0 5.0 0a2.5 2.5 0 1 0 -5.0 0M562.7 614.5a2.5 2.5 0 1 0 5.0 0a2.5 2.5 0 1 0 -5.0 0M563.6 614.3a2.5 2.5 0 1 0 5.0 0a2.5 2.5 0 1 0 -5.0 0M564.5 614.9a2.5 2.5 0 1 0 5.0 0a2.5 2.5 0 1 0 -5.0 0M565.3 614.5a2.5 2.5 0 1 0 5.0 0a2.5 2.5 0 1 0 -5.0 0M566.2 614.4a2.5 2.5 0 1 0 5.0 0a2.5 2.5 0 1 0 -5.0 0M567.0 614.6a2.5 2.5 0 1 0 5.0 0a2.5 2.5 0 1 0 -5.0 0M567.9 614.5a2.5 2.5 0 1 0 5.0 0a2.5 2.5 0 1 0 -5.0 0M568.7 614.7a2.5 2.5 0 1 0 5.0 0a2.5 2.5 0 1 0 -5.0 0M569.6 614.6a2.5 2.5 0 1 0 5.0 0a2.5 2.5 0 1 0 -5.0 0M570.4 614.5a2.5 2.5 0 1 0 5.0 0a2.5 2.5 0 1 0 -5.0 0M571.3 614.4a2.5 2.5 0 1 0 5.0 0a2.5 2.5 0 1 0 -5.0 0M572.1 614.8a2.5 2.5 0 1 0 5.0 0a2.5 2.5 0 1 0 -5.0 0M572.9 614.6a2.5 2.5 0 1 0 5.0 0a2.5 2.5 0 1 0 -5.0 0M573.7 614.9a2.5 2.5 0 1 0 5.0 0a2.5 2.5 0 1 0 -5.0 0M574.6 614.7a2.5 2.5 0 1 0 5.0 0a2.5 2.5 0 1 0 -5.0 0M575.4 615.0a2.5 2.5 0 1 0 5.0 0a2.5 2.5 0 1 0 -5.0 0M576.2 614.6a2.5 2.5 0 1 0 5.0 0a2.5 2.5 0 1 0 -5.0 0M577.0 614.6a2.5 2.5 0 1 0 5.0 0a2.5 2.5 0 1 0 -5.0 0M577.9 614.6a2.5 2.5 0 1 0 5.0 0a2.5 2.5 0 1 0 -5.0 0M578.7 615.0a2.5 2.5 0 1 0 5.0 0a2.5 2.5 0 1 0 -5.0 0M579.5 614.9a2.5 2.5 0 1 0 5.0 0a2.5 2.5 0 1 0 -5.0 0M580.3 614.7a2.5 2.5 0 1 0 5.0 0a2.5 2.5 0 1 0 -5.0 0M581.1 614.6a2.5 2.5 0 1 0 5.0 0a2.5 2.5 0 1 0 -5.0 0M581.9 614.9a2.5 2.5 0 1 0 5.0 0a2.5 2.5 0 1 0 -5.0 0M582.7 615.1a2.5 2.5 0 1 0 5.0 0a2.5 2.5 0 1 0 -5.0 0M583.5 614.9a2.5 2.5 0 1 0 5.0 0a2.5 2.5 0 1 0 -5.0 0M584.3 614.5a2.5 2.5 0 1 0 5.0 0a2.5 2.5 0 1 0 -5.0 0M585.1 614.6a2.5 2.5 0 1 0 5.0 0a2.5 2.5 0 1 0 -5.0 0M585.9 614.6a2.5 2.5 0 1 0 5.0 0a2.5 2.5 0 1 0 -5.0 0M586.6 614.7a2.5 2.5 0 1 0 5.0 0a2.5 2.5 0 1 0 -5.0 0M587.4 614.6a2.5 2.5 0 1 0 5.0 0a2.5 2.5 0 1 0 -5.0 0M588.2 614.6a2.5 2.5 0 1 0 5.0 0a2.5 2.5 0 1 0 -5.0 0M589.0 615.0a2.5 2.5 0 1 0 5.0 0a2.5 2.5 0 1 0 -5.0 0M589.8 615.1a2.5 2.5 0 1 0 5.0 0a2.5 2.5 0 1 0 -5.0 0M590.5 614.7a2.5 2.5 0 1 0 5.0 0a2.5 2.5 0 1 0 -5.0 0M591.3 615.2a2.5 2.5 0 1 0 5.0 0a2.5 2.5 0 1 0 -5.0 0M592.1 614.9a2.5 2.5 0 1 0 5.0 0a2.5 2.5 0 1 0 -5.0 0M592.8 615.1a2.5 2.5 0 1 0 5.0 0a2.5 2.5 0 1 0 -5.0 0M593.6 615.2a2.5 2.5 0 1 0 5.0 0a2.5 2.5 0 1 0 -5.0 0M594.4 615.2a2.5 2.5 0 1 0 5.0 0a2.5 2.5 0 1 0 -5.0 0M595.1 614.7a2.5 2.5 0 1 0 5.0 0a2.5 2.5 0 1 0 -5.0 0M595.9 614.9a2.5 2.5 0 1 0 5.0 0a2.5 2.5 0 1 0 -5.0 0M596.6 615.1a2.5 2.5 0 1 0 5.0 0a2.5 2.5 0 1 0 -5.0 0M597.4 615.3a2.5 2.5 0 1 0 5.0 0a2.5 2.5 0 1 0 -5.0 0M598.1 614.8a2.5 2.5 0 1 0 5.0 0a2.5 2.5 0 1 0 -5.0 0M598.9 614.9a2.5 2.5 0 1 0 5.0 0a2.5 2.5 0 1 0 -5.0 0M599.6 615.2a2.5 2.5 0 1 0 5.0 0a2.5 2.5 0 1 0 -5.0 0M600.4 614.8a2.5 2.5 0 1 0 5.0 0a2.5 2.5 0 1 0 -5.0 0M601.1 614.9a2.5 2.5 0 1 0 5.0 0a2.5 2.5 0 1 0 -5.0 0M601.9 614.9a2.5 2.5 0 1 0 5.0 0a2.5 2.5 0 1 0 -5.0 0M602.6 615.1a2.5 2.5 0 1 0 5.0 0a2.5 2.5 0 1 0 -5.0 0M603.3 615.3a2.5 2.5 0 1 0 5.0 0a2.5 2.5 0 1 0 -5.0 0M604.1 614.8a2.5 2.5 0 1 0 5.0 0a2.5 2.5 0 1 0 -5.0 0M604.8 615.1a2.5 2.5 0 1 0 5.0 0a2.5 2.5 0 1 0 -5.0 0M605.5 615.1a2.5 2.5 0 1 0 5.0 0a2.5 2.5 0 1 0 -5.0 0M606.3 615.2a2.5 2.5 0 1 0 5.0 0a2.5 2.5 0 1 0 -5.0 0M607.0 615.0a2.5 2.5 0 1 0 5.0 0a2.5 2.5 0 1 0 -5.0 0M607.7 615.3a2.5 2.5 0 1 0 5.0 0a2.5 2.5 0 1 0 -5.0 0M608.4 614.9a2.5 2.5 0 1 0 5.0 0a2.5 2.5 0 1 0 -5.0 0M609.1 614.9a2.5 2.5 0 1 0 5.0 0a2.5 2.5 0 1 0 -5.0 0M609.9 614.8a2.5 2.5 0 1 0 5.0 0a2.5 2.5 0 1 0 -5.0 0M610.6 615.2a2.5 2.5 0 1 0 5.0 0a2.5 2.5 0 1 0 -5.0 0M611.3 615.0a2.5 2.5 0 1 0 5.0 0a2.5 2.5 0 1 0 -5.0 0M612.0 614.9a2.5 2.5 0 1 0 5.0 0a2.5 2.5 0 1 0 -5.0 0M612.7 614.8a2.5 2.5 0 1 0 5.0 0a2.5 2.5 0 1 0 -5.0 0M613.4 615.1a2.5 2.5 0 1 0 5.0 0a2.5 2.5 0 1 0 -5.0 0M614.1 615.1a2.5 2.5 0 1 0 5.0 0a2.5 2.5 0 1 0 -5.0 0M614.8 615.1a2.5 2.5 0 1 0 5.0 0a2.5 2.5 0 1 0 -5.0 0M615.5 614.9a2.5 2.5 0 1 0 5.0 0a2.5 2.5 0 1 0 -5.0 0M616.2 615.0a2.5 2.5 0 1 0 5.0 0a2.5 2.5 0 1 0 -5.0 0M616.9 614.8a2.5 2.5 0 1 0 5.0 0a2.5 2.5 0 1 0 -5.0 0M617.6 615.1a2.5 2.5 0 1 0 5.0 0a2.5 2.5 0 1 0 -5.0 0M618.3 614.7a2.5 2.5 0 1 0 5.0 0a2.5 2.5 0 1 0 -5.0 0M619.0 615.0a2.5 2.5 0 1 0 5.0 0a2.5 2.5 0 1 0 -5.0 0M619.7 615.2a2.5 2.5 0 1 0 5.0 0a2.5 2.5 0 1 0 -5.0 0M620.4 615.1a2.5 2.5 0 1 0 5.0 0a2.5 2.5 0 1 0 -5.0 0M621.1 614.8a2.5 2.5 0 1 0 5.0 0a2.5 2.5 0 1 0 -5.0 0M621.8 614.8a2.5 2.5 0 1 0 5.0 0a2.5 2.5 0 1 0 -5.0 0M622.4 615.2a2.5 2.5 0 1 0 5.0 0a2.5 2.5 0 1 0 -5.0 0M623.1 615.1a2.5 2.5 0 1 0 5.0 0a2.5 2.5 0 1 0 -5.0 0M623.8 615.2a2.5 2.5 0 1 0 5.0 0a2.5 2.5 0 1 0 -5.0 0M624.5 615.2a2.5 2.5 0 1 0 5.0 0a2.5 2.5 0 1 0 -5.0 0M625.2 615.0a2.5 2.5 0 1 0 5.0 0a2.5 2.5 0 1 0 -5.0 0M625.8 615.2a2.5 2.5 0 1 0 5.0 0a2.5 2.5 0 1 0 -5.0 0M626.5 615.1a2.5 2.5 0 1 0 5.0 0a2.5 2.5 0 1 0 -5.0 0M627.2 614.9a2.5 2.5 0 1 0 5.0 0a2.5 2.5 0 1 0 -5.0 0M627.8 614.9a2.5 2.5 0 1 0 5.0 0a2.5 2.5 0 1 0 -5.0 0M628.5 614.7a2.5 2.5 0 1 0 5.0 0a2.5 2.5 0 1 0 -5.0 0M629.2 614.9a2.5 2.5 0 1 0 5.0 0a2.5 2.5 0 1 0 -5.0 0M629.8 615.3a2.5 2.5 0 1 0 5.0 0a2.5 2.5 0 1 0 -5.0 0M630.5 614.8a2.5 2.5 0 1 0 5.0 0a2.5 2.5 0 1 0 -5.0 0M631.2 615.0a2.5 2.5 0 1 0 5.0 0a2.5 2.5 0 1 0 -5.0 0M631.8 614.8a2.5 2.5 0 1 0 5.0 0a2.5 2.5 0 1 0 -5.0 0M632.5 614.7a2.5 2.5 0 1 0 5.0 0a2.5 2.5 0 1 0 -5.0 0M633.1 615.1a2.5 2.5 0 1 0 5.0 0a2.5 2.5 0 1 0 -5.0 0M633.8 614.8a2.5 2.5 0 1 0 5.0 0a2.5 2.5 0 1 0 -5.0 0M634.5 614.7a2.5 2.5 0 1 0 5.0 0a2.5 2.5 0 1 0 -5.0 0M635.1 614.8a2.5 2.5 0 1 0 5.0 0a2.5 2.5 0 1 0 -5.0 0M635.8 615.1a2.5 2.5 0 1 0 5.0 0a2.5 2.5 0 1 0 -5.0 0M636.4 615.1a2.5 2.5 0 1 0 5.0 0a2.5 2.5 0 1 0 -5.0 0M637.0 614.7a2.5 2.5 0 1 0 5.0 0a2.5 2.5 0 1 0 -5.0 0M637.7 614.8a2.5 2.5 0 1 0 5.0 0a2.5 2.5 0 1 0 -5.0 0M638.3 615.3a2.5 2.5 0 1 0 5.0 0a2.5 2.5 0 1 0 -5.0 0M639.0 614.8a2.5 2.5 0 1 0 5.0 0a2.5 2.5 0 1 0 -5.0 0M639.6 615.0a2.5 2.5 0 1 0 5.0 0a2.5 2.5 0 1 0 -5.0 0M640.3 615.0a2.5 2.5 0 1 0 5.0 0a2.5 2.5 0 1 0 -5.0 0M640.9 615.2a2.5 2.5 0 1 0 5.0 0a2.5 2.5 0 1 0 -5.0 0M641.5 615.1a2.5 2.5 0 1 0 5.0 0a2.5 2.5 0 1 0 -5.0 0M642.2 615.2a2.5 2.5 0 1 0 5.0 0a2.5 2.5 0 1 0 -5.0 0M642.8 615.0a2.5 2.5 0 1 0 5.0 0a2.5 2.5 0 1 0 -5.0 0M643.4 614.8a2.5 2.5 0 1 0 5.0 0a2.5 2.5 0 1 0 -5.0 0M644.1 614.8a2.5 2.5 0 1 0 5.0 0a2.5 2.5 0 1 0 -5.0 0M644.7 614.7a2.5 2.5 0 1 0 5.0 0a2.5 2.5 0 1 0 -5.0 0M645.3 615.2a2.5 2.5 0 1 0 5.0 0a2.5 2.5 0 1 0 -5.0 0M645.9 614.8a2.5 2.5 0 1 0 5.0 0a2.5 2.5 0 1 0 -5.0 0M646.6 614.7a2.5 2.5 0 1 0 5.0 0a2.5 2.5 0 1 0 -5.0 0M647.2 615.3a2.5 2.5 0 1 0 5.0 0a2.5 2.5 0 1 0 -5.0 0M647.8 614.8a2.5 2.5 0 1 0 5.0 0a2.5 2.5 0 1 0 -5.0 0M648.4 615.2a2.5 2.5 0 1 0 5.0 0a2.5 2.5 0 1 0 -5.0 0M649.1 614.8a2.5 2.5 0 1 0 5.0 0a2.5 2.5 0 1 0 -5.0 0M649.7 615.0a2.5 2.5 0 1 0 5.0 0a2.5 2.5 0 1 0 -5.0 0M650.3 614.8a2.5 2.5 0 1 0 5.0 0a2.5 2.5 0 1 0 -5.0 0M650.9 615.2a2.5 2.5 0 1 0 5.0 0a2.5 2.5 0 1 0 -5.0 0M651.5 615.1a2.5 2.5 0 1 0 5.0 0a2.5 2.5 0 1 0 -5.0 0M652.1 615.1a2.5 2.5 0 1 0 5.0 0a2.5 2.5 0 1 0 -5.0 0M652.7 615.2a2.5 2.5 0 1 0 5.0 0a2.5 2.5 0 1 0 -5.0 0M653.4 615.2a2.5 2.5 0 1 0 5.0 0a2.5 2.5 0 1 0 -5.0 0M654.0 614.9a2.5 2.5 0 1 0 5.0 0a2.5 2.5 0 1 0 -5.0 0M654.6 615.1a2.5 2.5 0 1 0 5.0 0a2.5 2.5 0 1 0 -5.0 0M655.2 615.0a2.5 2.5 0 1 0 5.0 0a2.5 2.5 0 1 0 -5.0 0M655.8 614.8a2.5 2.5 0 1 0 5.0 0a2.5 2.5 0 1 0 -5.0 0M656.4 615.2a2.5 2.5 0 1 0 5.0 0a2.5 2.5 0 1 0 -5.0 0M657.0 615.1a2.5 2.5 0 1 0 5.0 0a2.5 2.5 0 1 0 -5.0 0M657.6 615.2a2.5 2.5 0 1 0 5.0 0a2.5 2.5 0 1 0 -5.0 0M658.2 614.8a2.5 2.5 0 1 0 5.0 0a2.5 2.5 0 1 0 -5.0 0M658.8 615.0a2.5 2.5 0 1 0 5.0 0a2.5 2.5 0 1 0 -5.0 0M659.4 615.0a2.5 2.5 0 1 0 5.0 0a2.5 2.5 0 1 0 -5.0 0M660.0 615.1a2.5 2.5 0 1 0 5.0 0a2.5 2.5 0 1 0 -5.0 0M660.6 614.7a2.5 2.5 0 1 0 5.0 0a2.5 2.5 0 1 0 -5.0 0M661.2 614.9a2.5 2.5 0 1 0 5.0 0a2.5 2.5 0 1 0 -5.0 0M661.8 615.0a2.5 2.5 0 1 0 5.0 0a2.5 2.5 0 1 0 -5.0 0M662.3 614.7a2.5 2.5 0 1 0 5.0 0a2.5 2.5 0 1 0 -5.0 0M662.9 615.0a2.5 2.5 0 1 0 5.0 0a2.5 2.5 0 1 0 -5.0 0M663.5 615.1a2.5 2.5 0 1 0 5.0 0a2.5 2.5 0 1 0 -5.0 0M664.1 615.0a2.5 2.5 0 1 0 5.0 0a2.5 2.5 0 1 0 -5.0 0M664.7 615.1a2.5 2.5 0 1 0 5.0 0a2.5 2.5 0 1 0 -5.0 0M665.3 615.1a2.5 2.5 0 1 0 5.0 0a2.5 2.5 0 1 0 -5.0 0M665.9 614.8a2.5 2.5 0 1 0 5.0 0a2.5 2.5 0 1 0 -5.0 0M666.4 614.9a2.5 2.5 0 1 0 5.0 0a2.5 2.5 0 1 0 -5.0 0M667.0 615.3a2.5 2.5 0 1 0 5.0 0a2.5 2.5 0 1 0 -5.0 0M667.6 614.9a2.5 2.5 0 1 0 5.0 0a2.5 2.5 0 1 0 -5.0 0M668.2 615.0a2.5 2.5 0 1 0 5.0 0a2.5 2.5 0 1 0 -5.0 0M668.8 614.8a2.5 2.5 0 1 0 5.0 0a2.5 2.5 0 1 0 -5.0 0M669.3 614.8a2.5 2.5 0 1 0 5.0 0a2.5 2.5 0 1 0 -5.0 0M669.9 614.8a2.5 2.5 0 1 0 5.0 0a2.5 2.5 0 1 0 -5.0 0M670.5 615.3a2.5 2.5 0 1 0 5.0 0a2.5 2.5 0 1 0 -5.0 0M671.1 615.1a2.5 2.5 0 1 0 5.0 0a2.5 2.5 0 1 0 -5.0 0M671.6 615.2a2.5 2.5 0 1 0 5.0 0a2.5 2.5 0 1 0 -5.0 0M672.2 615.3a2.5 2.5 0 1 0 5.0 0a2.5 2.5 0 1 0 -5.0 0M672.8 615.1a2.5 2.5 0 1 0 5.0 0a2.5 2.5 0 1 0 -5.0 0M673.3 615.3a2.5 2.5 0 1 0 5.0 0a2.5 2.5 0 1 0 -5.0 0M673.9 615.0a2.5 2.5 0 1 0 5.0 0a2.5 2.5 0 1 0 -5.0 0M674.5 615.0a2.5 2.5 0 1 0 5.0 0a2.5 2.5 0 1 0 -5.0 0M675.0 615.3a2.5 2.5 0 1 0 5.0 0a2.5 2.5 0 1 0 -5.0 0M675.6 615.2a2.5 2.5 0 1 0 5.0 0a2.5 2.5 0 1 0 -5.0 0M676.2 615.3a2.5 2.5 0 1 0 5.0 0a2.5 2.5 0 1 0 -5.0 0M676.7 615.0a2.5 2.5 0 1 0 5.0 0a2.5 2.5 0 1 0 -5.0 0M677.3 615.2a2.5 2.5 0 1 0 5.0 0a2.5 2.5 0 1 0 -5.0 0M677.9 614.9a2.5 2.5 0 1 0 5.0 0a2.5 2.5 0 1 0 -5.0 0M678.4 615.3a2.5 2.5 0 1 0 5.0 0a2.5 2.5 0 1 0 -5.0 0M679.0 615.3a2.5 2.5 0 1 0 5.0 0a2.5 2.5 0 1 0 -5.0 0M679.5 614.9a2.5 2.5 0 1 0 5.0 0a2.5 2.5 0 1 0 -5.0 0M680.1 615.3a2.5 2.5 0 1 0 5.0 0a2.5 2.5 0 1 0 -5.0 0M680.6 614.8a2.5 2.5 0 1 0 5.0 0a2.5 2.5 0 1 0 -5.0 0M681.2 614.8a2.5 2.5 0 1 0 5.0 0a2.5 2.5 0 1 0 -5.0 0M681.7 615.1a2.5 2.5 0 1 0 5.0 0a2.5 2.5 0 1 0 -5.0 0M682.3 614.9a2.5 2.5 0 1 0 5.0 0a2.5 2.5 0 1 0 -5.0 0M682.8 615.0a2.5 2.5 0 1 0 5.0 0a2.5 2.5 0 1 0 -5.0 0M683.4 615.1a2.5 2.5 0 1 0 5.0 0a2.5 2.5 0 1 0 -5.0 0M683.9 614.7a2.5 2.5 0 1 0 5.0 0a2.5 2.5 0 1 0 -5.0 0M684.5 615.1a2.5 2.5 0 1 0 5.0 0a2.5 2.5 0 1 0 -5.0 0M685.0 614.9a2.5 2.5 0 1 0 5.0 0a2.5 2.5 0 1 0 -5.0 0M685.6 615.0a2.5 2.5 0 1 0 5.0 0a2.5 2.5 0 1 0 -5.0 0M686.1 614.9a2.5 2.5 0 1 0 5.0 0a2.5 2.5 0 1 0 -5.0 0M686.7 615.1a2.5 2.5 0 1 0 5.0 0a2.5 2.5 0 1 0 -5.0 0M687.2 615.1a2.5 2.5 0 1 0 5.0 0a2.5 2.5 0 1 0 -5.0 0M687.7 614.9a2.5 2.5 0 1 0 5.0 0a2.5 2.5 0 1 0 -5.0 0M688.3 614.8a2.5 2.5 0 1 0 5.0 0a2.5 2.5 0 1 0 -5.0 0M688.8 614.9a2.5 2.5 0 1 0 5.0 0a2.5 2.5 0 1 0 -5.0 0M689.4 614.9a2.5 2.5 0 1 0 5.0 0a2.5 2.5 0 1 0 -5.0 0M689.9 614.7a2.5 2.5 0 1 0 5.0 0a2.5 2.5 0 1 0 -5.0 0M690.4 614.8a2.5 2.5 0 1 0 5.0 0a2.5 2.5 0 1 0 -5.0 0M691.0 615.2a2.5 2.5 0 1 0 5.0 0a2.5 2.5 0 1 0 -5.0 0M691.5 615.1a2.5 2.5 0 1 0 5.0 0a2.5 2.5 0 1 0 -5.0 0M692.0 615.3a2.5 2.5 0 1 0 5.0 0a2.5 2.5 0 1 0 -5.0 0M692.6 615.3a2.5 2.5 0 1 0 5.0 0a2.5 2.5 0 1 0 -5.0 0M693.1 615.2a2.5 2.5 0 1 0 5.0 0a2.5 2.5 0 1 0 -5.0 0M693.6 614.9a2.5 2.5 0 1 0 5.0 0a2.5 2.5 0 1 0 -5.0 0M694.2 614.8a2.5 2.5 0 1 0 5.0 0a2.5 2.5 0 1 0 -5.0 0M694.7 614.9a2.5 2.5 0 1 0 5.0 0a2.5 2.5 0 1 0 -5.0 0M695.2 615.0a2.5 2.5 0 1 0 5.0 0a2.5 2.5 0 1 0 -5.0 0M695.7 615.0a2.5 2.5 0 1 0 5.0 0a2.5 2.5 0 1 0 -5.0 0M696.3 615.0a2.5 2.5 0 1 0 5.0 0a2.5 2.5 0 1 0 -5.0 0M696.8 614.9a2.5 2.5 0 1 0 5.0 0a2.5 2.5 0 1 0 -5.0 0M697.3 615.2a2.5 2.5 0 1 0 5.0 0a2.5 2.5 0 1 0 -5.0 0M697.8 614.9a2.5 2.5 0 1 0 5.0 0a2.5 2.5 0 1 0 -5.0 0M698.4 615.0a2.5 2.5 0 1 0 5.0 0a2.5 2.5 0 1 0 -5.0 0M698.9 615.2a2.5 2.5 0 1 0 5.0 0a2.5 2.5 0 1 0 -5.0 0M699.4 615.2a2.5 2.5 0 1 0 5.0 0a2.5 2.5 0 1 0 -5.0 0M699.9 614.9a2.5 2.5 0 1 0 5.0 0a2.5 2.5 0 1 0 -5.0 0M700.4 614.8a2.5 2.5 0 1 0 5.0 0a2.5 2.5 0 1 0 -5.0 0M701.0 615.2a2.5 2.5 0 1 0 5.0 0a2.5 2.5 0 1 0 -5.0 0M701.5 614.7a2.5 2.5 0 1 0 5.0 0a2.5 2.5 0 1 0 -5.0 0M702.0 614.8a2.5 2.5 0 1 0 5.0 0a2.5 2.5 0 1 0 -5.0 0M702.5 615.0a2.5 2.5 0 1 0 5.0 0a2.5 2.5 0 1 0 -5.0 0M703.0 615.0a2.5 2.5 0 1 0 5.0 0a2.5 2.5 0 1 0 -5.0 0M703.5 614.8a2.5 2.5 0 1 0 5.0 0a2.5 2.5 0 1 0 -5.0 0M704.1 614.7a2.5 2.5 0 1 0 5.0 0a2.5 2.5 0 1 0 -5.0 0M704.6 614.8a2.5 2.5 0 1 0 5.0 0a2.5 2.5 0 1 0 -5.0 0M705.1 615.2a2.5 2.5 0 1 0 5.0 0a2.5 2.5 0 1 0 -5.0 0M705.6 615.0a2.5 2.5 0 1 0 5.0 0a2.5 2.5 0 1 0 -5.0 0M706.1 615.3a2.5 2.5 0 1 0 5.0 0a2.5 2.5 0 1 0 -5.0 0M706.6 615.2a2.5 2.5 0 1 0 5.0 0a2.5 2.5 0 1 0 -5.0 0M707.1 615.3a2.5 2.5 0 1 0 5.0 0a2.5 2.5 0 1 0 -5.0 0M707.6 614.7a2.5 2.5 0 1 0 5.0 0a2.5 2.5 0 1 0 -5.0 0M708.1 614.8a2.5 2.5 0 1 0 5.0 0a2.5 2.5 0 1 0 -5.0 0M708.6 614.7a2.5 2.5 0 1 0 5.0 0a2.5 2.5 0 1 0 -5.0 0M709.1 615.0a2.5 2.5 0 1 0 5.0 0a2.5 2.5 0 1 0 -5.0 0M709.6 614.9a2.5 2.5 0 1 0 5.0 0a2.5 2.5 0 1 0 -5.0 0M710.1 614.7a2.5 2.5 0 1 0 5.0 0a2.5 2.5 0 1 0 -5.0 0M710.6 615.0a2.5 2.5 0 1 0 5.0 0a2.5 2.5 0 1 0 -5.0 0M711.1 614.8a2.5 2.5 0 1 0 5.0 0a2.5 2.5 0 1 0 -5.0 0M711.6 614.9a2.5 2.5 0 1 0 5.0 0a2.5 2.5 0 1 0 -5.0 0M712.1 614.8a2.5 2.5 0 1 0 5.0 0a2.5 2.5 0 1 0 -5.0 0M712.6 615.2a2.5 2.5 0 1 0 5.0 0a2.5 2.5 0 1 0 -5.0 0M713.1 615.0a2.5 2.5 0 1 0 5.0 0a2.5 2.5 0 1 0 -5.0 0M713.6 614.9a2.5 2.5 0 1 0 5.0 0a2.5 2.5 0 1 0 -5.0 0M714.1 614.7a2.5 2.5 0 1 0 5.0 0a2.5 2.5 0 1 0 -5.0 0M714.6 615.0a2.5 2.5 0 1 0 5.0 0a2.5 2.5 0 1 0 -5.0 0M715.1 615.1a2.5 2.5 0 1 0 5.0 0a2.5 2.5 0 1 0 -5.0 0M715.6 615.1a2.5 2.5 0 1 0 5.0 0a2.5 2.5 0 1 0 -5.0 0M716.1 615.2a2.5 2.5 0 1 0 5.0 0a2.5 2.5 0 1 0 -5.0 0M716.6 615.2a2.5 2.5 0 1 0 5.0 0a2.5 2.5 0 1 0 -5.0 0M717.1 614.8a2.5 2.5 0 1 0 5.0 0a2.5 2.5 0 1 0 -5.0 0M717.6 614.8a2.5 2.5 0 1 0 5.0 0a2.5 2.5 0 1 0 -5.0 0M718.1 615.2a2.5 2.5 0 1 0 5.0 0a2.5 2.5 0 1 0 -5.0 0M718.6 615.2a2.5 2.5 0 1 0 5.0 0a2.5 2.5 0 1 0 -5.0 0M719.0 615.0a2.5 2.5 0 1 0 5.0 0a2.5 2.5 0 1 0 -5.0 0M719.5 615.2a2.5 2.5 0 1 0 5.0 0a2.5 2.5 0 1 0 -5.0 0M720.0 615.0a2.5 2.5 0 1 0 5.0 0a2.5 2.5 0 1 0 -5.0 0M720.5 614.9a2.5 2.5 0 1 0 5.0 0a2.5 2.5 0 1 0 -5.0 0M721.0 614.8a2.5 2.5 0 1 0 5.0 0a2.5 2.5 0 1 0 -5.0 0M721.5 614.7a2.5 2.5 0 1 0 5.0 0a2.5 2.5 0 1 0 -5.0 0M722.0 615.1a2.5 2.5 0 1 0 5.0 0a2.5 2.5 0 1 0 -5.0 0M722.4 615.2a2.5 2.5 0 1 0 5.0 0a2.5 2.5 0 1 0 -5.0 0M722.9 615.2a2.5 2.5 0 1 0 5.0 0a2.5 2.5 0 1 0 -5.0 0M723.4 615.0a2.5 2.5 0 1 0 5.0 0a2.5 2.5 0 1 0 -5.0 0M723.9 615.1a2.5 2.5 0 1 0 5.0 0a2.5 2.5 0 1 0 -5.0 0M724.4 615.3a2.5 2.5 0 1 0 5.0 0a2.5 2.5 0 1 0 -5.0 0M724.8 615.2a2.5 2.5 0 1 0 5.0 0a2.5 2.5 0 1 0 -5.0 0M725.3 615.1a2.5 2.5 0 1 0 5.0 0a2.5 2.5 0 1 0 -5.0 0M725.8 614.9a2.5 2.5 0 1 0 5.0 0a2.5 2.5 0 1 0 -5.0 0M726.3 615.0a2.5 2.5 0 1 0 5.0 0a2.5 2.5 0 1 0 -5.0 0M726.8 614.8a2.5 2.5 0 1 0 5.0 0a2.5 2.5 0 1 0 -5.0 0M727.2 614.8a2.5 2.5 0 1 0 5.0 0a2.5 2.5 0 1 0 -5.0 0M727.7 615.1a2.5 2.5 0 1 0 5.0 0a2.5 2.5 0 1 0 -5.0 0M728.2 615.3a2.5 2.5 0 1 0 5.0 0a2.5 2.5 0 1 0 -5.0 0M728.7 615.0a2.5 2.5 0 1 0 5.0 0a2.5 2.5 0 1 0 -5.0 0M729.1 614.9a2.5 2.5 0 1 0 5.0 0a2.5 2.5 0 1 0 -5.0 0M729.6 614.9a2.5 2.5 0 1 0 5.0 0a2.5 2.5 0 1 0 -5.0 0M730.1 615.0a2.5 2.5 0 1 0 5.0 0a2.5 2.5 0 1 0 -5.0 0M730.5 615.2a2.5 2.5 0 1 0 5.0 0a2.5 2.5 0 1 0 -5.0 0M731.0 615.0a2.5 2.5 0 1 0 5.0 0a2.5 2.5 0 1 0 -5.0 0M731.5 615.3a2.5 2.5 0 1 0 5.0 0a2.5 2.5 0 1 0 -5.0 0M732.0 614.8a2.5 2.5 0 1 0 5.0 0a2.5 2.5 0 1 0 -5.0 0M732.4 614.9a2.5 2.5 0 1 0 5.0 0a2.5 2.5 0 1 0 -5.0 0M732.9 615.0a2.5 2.5 0 1 0 5.0 0a2.5 2.5 0 1 0 -5.0 0M733.4 614.9a2.5 2.5 0 1 0 5.0 0a2.5 2.5 0 1 0 -5.0 0M733.8 615.2a2.5 2.5 0 1 0 5.0 0a2.5 2.5 0 1 0 -5.0 0M734.3 615.2a2.5 2.5 0 1 0 5.0 0a2.5 2.5 0 1 0 -5.0 0M734.8 615.3a2.5 2.5 0 1 0 5.0 0a2.5 2.5 0 1 0 -5.0 0M735.2 615.1a2.5 2.5 0 1 0 5.0 0a2.5 2.5 0 1 0 -5.0 0M735.7 614.7a2.5 2.5 0 1 0 5.0 0a2.5 2.5 0 1 0 -5.0 0M736.1 615.0a2.5 2.5 0 1 0 5.0 0a2.5 2.5 0 1 0 -5.0 0M736.6 615.0a2.5 2.5 0 1 0 5.0 0a2.5 2.5 0 1 0 -5.0 0M737.1 615.0a2.5 2.5 0 1 0 5.0 0a2.5 2.5 0 1 0 -5.0 0M737.5 614.9a2.5 2.5 0 1 0 5.0 0a2.5 2.5 0 1 0 -5.0 0M738.0 615.1a2.5 2.5 0 1 0 5.0 0a2.5 2.5 0 1 0 -5.0 0M738.4 615.2a2.5 2.5 0 1 0 5.0 0a2.5 2.5 0 1 0 -5.0 0M738.9 614.8a2.5 2.5 0 1 0 5.0 0a2.5 2.5 0 1 0 -5.0 0M739.4 615.1a2.5 2.5 0 1 0 5.0 0a2.5 2.5 0 1 0 -5.0 0M739.8 614.9a2.5 2.5 0 1 0 5.0 0a2.5 2.5 0 1 0 -5.0 0M740.3 615.0a2.5 2.5 0 1 0 5.0 0a2.5 2.5 0 1 0 -5.0 0M740.7 615.2a2.5 2.5 0 1 0 5.0 0a2.5 2.5 0 1 0 -5.0 0M741.2 615.3a2.5 2.5 0 1 0 5.0 0a2.5 2.5 0 1 0 -5.0 0M741.6 615.1a2.5 2.5 0 1 0 5.0 0a2.5 2.5 0 1 0 -5.0 0M742.1 614.8a2.5 2.5 0 1 0 5.0 0a2.5 2.5 0 1 0 -5.0 0M742.5 615.3a2.5 2.5 0 1 0 5.0 0a2.5 2.5 0 1 0 -5.0 0M743.0 614.8a2.5 2.5 0 1 0 5.0 0a2.5 2.5 0 1 0 -5.0 0M743.5 614.9a2.5 2.5 0 1 0 5.0 0a2.5 2.5 0 1 0 -5.0 0M743.9 615.2a2.5 2.5 0 1 0 5.0 0a2.5 2.5 0 1 0 -5.0 0M744.4 614.9a2.5 2.5 0 1 0 5.0 0a2.5 2.5 0 1 0 -5.0 0M744.8 614.9a2.5 2.5 0 1 0 5.0 0a2.5 2.5 0 1 0 -5.0 0M745.3 615.3a2.5 2.5 0 1 0 5.0 0a2.5 2.5 0 1 0 -5.0 0M745.7 615.3a2.5 2.5 0 1 0 5.0 0a2.5 2.5 0 1 0 -5.0 0M746.2 614.9a2.5 2.5 0 1 0 5.0 0a2.5 2.5 0 1 0 -5.0 0M746.6 614.9a2.5 2.5 0 1 0 5.0 0a2.5 2.5 0 1 0 -5.0 0M747.1 614.9a2.5 2.5 0 1 0 5.0 0a2.5 2.5 0 1 0 -5.0 0M747.5 614.8a2.5 2.5 0 1 0 5.0 0a2.5 2.5 0 1 0 -5.0 0M747.9 614.9a2.5 2.5 0 1 0 5.0 0a2.5 2.5 0 1 0 -5.0 0M748.4 615.3a2.5 2.5 0 1 0 5.0 0a2.5 2.5 0 1 0 -5.0 0M748.8 614.7a2.5 2.5 0 1 0 5.0 0a2.5 2.5 0 1 0 -5.0 0M749.3 614.8a2.5 2.5 0 1 0 5.0 0a2.5 2.5 0 1 0 -5.0 0M749.7 614.8a2.5 2.5 0 1 0 5.0 0a2.5 2.5 0 1 0 -5.0 0M750.2 614.7a2.5 2.5 0 1 0 5.0 0a2.5 2.5 0 1 0 -5.0 0M750.6 615.0a2.5 2.5 0 1 0 5.0 0a2.5 2.5 0 1 0 -5.0 0M751.0 615.1a2.5 2.5 0 1 0 5.0 0a2.5 2.5 0 1 0 -5.0 0M751.5 615.2a2.5 2.5 0 1 0 5.0 0a2.5 2.5 0 1 0 -5.0 0M751.9 615.1a2.5 2.5 0 1 0 5.0 0a2.5 2.5 0 1 0 -5.0 0M752.4 615.2a2.5 2.5 0 1 0 5.0 0a2.5 2.5 0 1 0 -5.0 0M752.8 614.7a2.5 2.5 0 1 0 5.0 0a2.5 2.5 0 1 0 -5.0 0M753.3 614.9a2.5 2.5 0 1 0 5.0 0a2.5 2.5 0 1 0 -5.0 0M753.7 615.3a2.5 2.5 0 1 0 5.0 0a2.5 2.5 0 1 0 -5.0 0M754.1 614.7a2.5 2.5 0 1 0 5.0 0a2.5 2.5 0 1 0 -5.0 0M754.6 614.9a2.5 2.5 0 1 0 5.0 0a2.5 2.5 0 1 0 -5.0 0M755.0 615.0a2.5 2.5 0 1 0 5.0 0a2.5 2.5 0 1 0 -5.0 0M755.4 614.9a2.5 2.5 0 1 0 5.0 0a2.5 2.5 0 1 0 -5.0 0M755.9 615.0a2.5 2.5 0 1 0 5.0 0a2.5 2.5 0 1 0 -5.0 0M756.3 614.7a2.5 2.5 0 1 0 5.0 0a2.5 2.5 0 1 0 -5.0 0M756.7 614.8a2.5 2.5 0 1 0 5.0 0a2.5 2.5 0 1 0 -5.0 0M757.2 615.3a2.5 2.5 0 1 0 5.0 0a2.5 2.5 0 1 0 -5.0 0M757.6 614.8a2.5 2.5 0 1 0 5.0 0a2.5 2.5 0 1 0 -5.0 0M758.0 615.2a2.5 2.5 0 1 0 5.0 0a2.5 2.5 0 1 0 -5.0 0M758.5 614.8a2.5 2.5 0 1 0 5.0 0a2.5 2.5 0 1 0 -5.0 0M758.9 615.3a2.5 2.5 0 1 0 5.0 0a2.5 2.5 0 1 0 -5.0 0M759.3 615.1a2.5 2.5 0 1 0 5.0 0a2.5 2.5 0 1 0 -5.0 0M759.8 615.1a2.5 2.5 0 1 0 5.0 0a2.5 2.5 0 1 0 -5.0 0M760.2 614.8a2.5 2.5 0 1 0 5.0 0a2.5 2.5 0 1 0 -5.0 0M760.6 614.7a2.5 2.5 0 1 0 5.0 0a2.5 2.5 0 1 0 -5.0 0M761.1 615.2a2.5 2.5 0 1 0 5.0 0a2.5 2.5 0 1 0 -5.0 0M761.5 614.8a2.5 2.5 0 1 0 5.0 0a2.5 2.5 0 1 0 -5.0 0M761.9 614.8a2.5 2.5 0 1 0 5.0 0a2.5 2.5 0 1 0 -5.0 0M762.3 615.2a2.5 2.5 0 1 0 5.0 0a2.5 2.5 0 1 0 -5.0 0M762.8 615.2a2.5 2.5 0 1 0 5.0 0a2.5 2.5 0 1 0 -5.0 0M763.2 614.7a2.5 2.5 0 1 0 5.0 0a2.5 2.5 0 1 0 -5.0 0M763.6 615.3a2.5 2.5 0 1 0 5.0 0a2.5 2.5 0 1 0 -5.0 0M764.0 615.0a2.5 2.5 0 1 0 5.0 0a2.5 2.5 0 1 0 -5.0 0M764.5 614.9a2.5 2.5 0 1 0 5.0 0a2.5 2.5 0 1 0 -5.0 0M764.9 614.8a2.5 2.5 0 1 0 5.0 0a2.5 2.5 0 1 0 -5.0 0M765.3 614.9a2.5 2.5 0 1 0 5.0 0a2.5 2.5 0 1 0 -5.0 0M765.7 615.3a2.5 2.5 0 1 0 5.0 0a2.5 2.5 0 1 0 -5.0 0M766.2 614.9a2.5 2.5 0 1 0 5.0 0a2.5 2.5 0 1 0 -5.0 0M766.6 614.8a2.5 2.5 0 1 0 5.0 0a2.5 2.5 0 1 0 -5.0 0M767.0 614.8a2.5 2.5 0 1 0 5.0 0a2.5 2.5 0 1 0 -5.0 0M767.4 614.8a2.5 2.5 0 1 0 5.0 0a2.5 2.5 0 1 0 -5.0 0M767.8 614.9a2.5 2.5 0 1 0 5.0 0a2.5 2.5 0 1 0 -5.0 0M768.3 615.2a2.5 2.5 0 1 0 5.0 0a2.5 2.5 0 1 0 -5.0 0M768.7 614.7a2.5 2.5 0 1 0 5.0 0a2.5 2.5 0 1 0 -5.0 0M769.1 614.8a2.5 2.5 0 1 0 5.0 0a2.5 2.5 0 1 0 -5.0 0M769.5 615.3a2.5 2.5 0 1 0 5.0 0a2.5 2.5 0 1 0 -5.0 0M769.9 615.3a2.5 2.5 0 1 0 5.0 0a2.5 2.5 0 1 0 -5.0 0M770.3 615.3a2.5 2.5 0 1 0 5.0 0a2.5 2.5 0 1 0 -5.0 0M770.8 614.8a2.5 2.5 0 1 0 5.0 0a2.5 2.5 0 1 0 -5.0 0M771.2 614.9a2.5 2.5 0 1 0 5.0 0a2.5 2.5 0 1 0 -5.0 0M771.6 615.3a2.5 2.5 0 1 0 5.0 0a2.5 2.5 0 1 0 -5.0 0M772.0 615.0a2.5 2.5 0 1 0 5.0 0a2.5 2.5 0 1 0 -5.0 0M772.4 615.1a2.5 2.5 0 1 0 5.0 0a2.5 2.5 0 1 0 -5.0 0M772.8 614.9a2.5 2.5 0 1 0 5.0 0a2.5 2.5 0 1 0 -5.0 0M773.3 614.7a2.5 2.5 0 1 0 5.0 0a2.5 2.5 0 1 0 -5.0 0M773.7 614.9a2.5 2.5 0 1 0 5.0 0a2.5 2.5 0 1 0 -5.0 0M774.1 615.1a2.5 2.5 0 1 0 5.0 0a2.5 2.5 0 1 0 -5.0 0M774.5 615.2a2.5 2.5 0 1 0 5.0 0a2.5 2.5 0 1 0 -5.0 0M774.9 615.0a2.5 2.5 0 1 0 5.0 0a2.5 2.5 0 1 0 -5.0 0M775.3 615.0a2.5 2.5 0 1 0 5.0 0a2.5 2.5 0 1 0 -5.0 0M775.7 615.0a2.5 2.5 0 1 0 5.0 0a2.5 2.5 0 1 0 -5.0 0M776.1 615.0a2.5 2.5 0 1 0 5.0 0a2.5 2.5 0 1 0 -5.0 0M776.5 615.0a2.5 2.5 0 1 0 5.0 0a2.5 2.5 0 1 0 -5.0 0M777.0 615.2a2.5 2.5 0 1 0 5.0 0a2.5 2.5 0 1 0 -5.0 0M777.4 614.8a2.5 2.5 0 1 0 5.0 0a2.5 2.5 0 1 0 -5.0 0M777.8 615.1a2.5 2.5 0 1 0 5.0 0a2.5 2.5 0 1 0 -5.0 0M778.2 615.3a2.5 2.5 0 1 0 5.0 0a2.5 2.5 0 1 0 -5.0 0M778.6 615.2a2.5 2.5 0 1 0 5.0 0a2.5 2.5 0 1 0 -5.0 0M779.0 614.8a2.5 2.5 0 1 0 5.0 0a2.5 2.5 0 1 0 -5.0 0M779.4 615.3a2.5 2.5 0 1 0 5.0 0a2.5 2.5 0 1 0 -5.0 0M779.8 615.2a2.5 2.5 0 1 0 5.0 0a2.5 2.5 0 1 0 -5.0 0M780.2 614.8a2.5 2.5 0 1 0 5.0 0a2.5 2.5 0 1 0 -5.0 0M780.6 614.9a2.5 2.5 0 1 0 5.0 0a2.5 2.5 0 1 0 -5.0 0M781.0 614.8a2.5 2.5 0 1 0 5.0 0a2.5 2.5 0 1 0 -5.0 0M781.4 614.7a2.5 2.5 0 1 0 5.0 0a2.5 2.5 0 1 0 -5.0 0M781.8 615.3a2.5 2.5 0 1 0 5.0 0a2.5 2.5 0 1 0 -5.0 0M782.2 614.9a2.5 2.5 0 1 0 5.0 0a2.5 2.5 0 1 0 -5.0 0M782.6 615.2a2.5 2.5 0 1 0 5.0 0a2.5 2.5 0 1 0 -5.0 0M783.0 614.8a2.5 2.5 0 1 0 5.0 0a2.5 2.5 0 1 0 -5.0 0M783.4 614.7a2.5 2.5 0 1 0 5.0 0a2.5 2.5 0 1 0 -5.0 0M783.8 615.2a2.5 2.5 0 1 0 5.0 0a2.5 2.5 0 1 0 -5.0 0M784.2 615.2a2.5 2.5 0 1 0 5.0 0a2.5 2.5 0 1 0 -5.0 0M784.6 615.3a2.5 2.5 0 1 0 5.0 0a2.5 2.5 0 1 0 -5.0 0M785.0 615.1a2.5 2.5 0 1 0 5.0 0a2.5 2.5 0 1 0 -5.0 0M785.4 615.0a2.5 2.5 0 1 0 5.0 0a2.5 2.5 0 1 0 -5.0 0M785.8 615.2a2.5 2.5 0 1 0 5.0 0a2.5 2.5 0 1 0 -5.0 0M786.2 614.8a2.5 2.5 0 1 0 5.0 0a2.5 2.5 0 1 0 -5.0 0M786.6 615.0a2.5 2.5 0 1 0 5.0 0a2.5 2.5 0 1 0 -5.0 0M787.0 615.0a2.5 2.5 0 1 0 5.0 0a2.5 2.5 0 1 0 -5.0 0M787.4 614.8a2.5 2.5 0 1 0 5.0 0a2.5 2.5 0 1 0 -5.0 0M787.8 615.1a2.5 2.5 0 1 0 5.0 0a2.5 2.5 0 1 0 -5.0 0M788.2 614.9a2.5 2.5 0 1 0 5.0 0a2.5 2.5 0 1 0 -5.0 0M788.6 615.0a2.5 2.5 0 1 0 5.0 0a2.5 2.5 0 1 0 -5.0 0M789.0 614.9a2.5 2.5 0 1 0 5.0 0a2.5 2.5 0 1 0 -5.0 0M789.4 614.9a2.5 2.5 0 1 0 5.0 0a2.5 2.5 0 1 0 -5.0 0M789.8 614.9a2.5 2.5 0 1 0 5.0 0a2.5 2.5 0 1 0 -5.0 0M790.2 615.1a2.5 2.5 0 1 0 5.0 0a2.5 2.5 0 1 0 -5.0 0M790.6 615.3a2.5 2.5 0 1 0 5.0 0a2.5 2.5 0 1 0 -5.0 0M791.0 615.3a2.5 2.5 0 1 0 5.0 0a2.5 2.5 0 1 0 -5.0 0M791.4 615.2a2.5 2.5 0 1 0 5.0 0a2.5 2.5 0 1 0 -5.0 0M791.8 615.2a2.5 2.5 0 1 0 5.0 0a2.5 2.5 0 1 0 -5.0 0M792.1 614.9a2.5 2.5 0 1 0 5.0 0a2.5 2.5 0 1 0 -5.0 0M792.5 615.3a2.5 2.5 0 1 0 5.0 0a2.5 2.5 0 1 0 -5.0 0M792.9 614.9a2.5 2.5 0 1 0 5.0 0a2.5 2.5 0 1 0 -5.0 0M793.3 614.8a2.5 2.5 0 1 0 5.0 0a2.5 2.5 0 1 0 -5.0 0M793.7 615.0a2.5 2.5 0 1 0 5.0 0a2.5 2.5 0 1 0 -5.0 0M794.1 615.1a2.5 2.5 0 1 0 5.0 0a2.5 2.5 0 1 0 -5.0 0M794.5 614.9a2.5 2.5 0 1 0 5.0 0a2.5 2.5 0 1 0 -5.0 0M794.9 615.1a2.5 2.5 0 1 0 5.0 0a2.5 2.5 0 1 0 -5.0 0M795.3 614.9a2.5 2.5 0 1 0 5.0 0a2.5 2.5 0 1 0 -5.0 0M795.6 615.3a2.5 2.5 0 1 0 5.0 0a2.5 2.5 0 1 0 -5.0 0M796.0 615.0a2.5 2.5 0 1 0 5.0 0a2.5 2.5 0 1 0 -5.0 0M796.4 615.0a2.5 2.5 0 1 0 5.0 0a2.5 2.5 0 1 0 -5.0 0M796.8 615.0a2.5 2.5 0 1 0 5.0 0a2.5 2.5 0 1 0 -5.0 0M797.2 615.2a2.5 2.5 0 1 0 5.0 0a2.5 2.5 0 1 0 -5.0 0M797.6 615.3a2.5 2.5 0 1 0 5.0 0a2.5 2.5 0 1 0 -5.0 0M798.0 615.0a2.5 2.5 0 1 0 5.0 0a2.5 2.5 0 1 0 -5.0 0M798.3 615.0a2.5 2.5 0 1 0 5.0 0a2.5 2.5 0 1 0 -5.0 0M798.7 615.1a2.5 2.5 0 1 0 5.0 0a2.5 2.5 0 1 0 -5.0 0M799.1 614.7a2.5 2.5 0 1 0 5.0 0a2.5 2.5 0 1 0 -5.0 0M799.5 615.0a2.5 2.5 0 1 0 5.0 0a2.5 2.5 0 1 0 -5.0 0M799.9 615.2a2.5 2.5 0 1 0 5.0 0a2.5 2.5 0 1 0 -5.0 0M800.3 615.2a2.5 2.5 0 1 0 5.0 0a2.5 2.5 0 1 0 -5.0 0M800.6 614.7a2.5 2.5 0 1 0 5.0 0a2.5 2.5 0 1 0 -5.0 0M801.0 615.2a2.5 2.5 0 1 0 5.0 0a2.5 2.5 0 1 0 -5.0 0M801.4 614.9a2.5 2.5 0 1 0 5.0 0a2.5 2.5 0 1 0 -5.0 0M801.8 615.3a2.5 2.5 0 1 0 5.0 0a2.5 2.5 0 1 0 -5.0 0M802.2 614.9a2.5 2.5 0 1 0 5.0 0a2.5 2.5 0 1 0 -5.0 0M802.6 614.8a2.5 2.5 0 1 0 5.0 0a2.5 2.5 0 1 0 -5.0 0M802.9 615.0a2.5 2.5 0 1 0 5.0 0a2.5 2.5 0 1 0 -5.0 0M803.3 615.2a2.5 2.5 0 1 0 5.0 0a2.5 2.5 0 1 0 -5.0 0M803.7 615.0a2.5 2.5 0 1 0 5.0 0a2.5 2.5 0 1 0 -5.0 0M804.1 615.2a2.5 2.5 0 1 0 5.0 0a2.5 2.5 0 1 0 -5.0 0M804.4 615.1a2.5 2.5 0 1 0 5.0 0a2.5 2.5 0 1 0 -5.0 0M804.8 614.9a2.5 2.5 0 1 0 5.0 0a2.5 2.5 0 1 0 -5.0 0M805.2 614.9a2.5 2.5 0 1 0 5.0 0a2.5 2.5 0 1 0 -5.0 0M805.6 615.0a2.5 2.5 0 1 0 5.0 0a2.5 2.5 0 1 0 -5.0 0M806.0 614.9a2.5 2.5 0 1 0 5.0 0a2.5 2.5 0 1 0 -5.0 0M806.3 614.9a2.5 2.5 0 1 0 5.0 0a2.5 2.5 0 1 0 -5.0 0M806.7 615.1a2.5 2.5 0 1 0 5.0 0a2.5 2.5 0 1 0 -5.0 0M807.1 615.2a2.5 2.5 0 1 0 5.0 0a2.5 2.5 0 1 0 -5.0 0M807.5 615.1a2.5 2.5 0 1 0 5.0 0a2.5 2.5 0 1 0 -5.0 0M807.8 614.8a2.5 2.5 0 1 0 5.0 0a2.5 2.5 0 1 0 -5.0 0M808.2 614.8a2.5 2.5 0 1 0 5.0 0a2.5 2.5 0 1 0 -5.0 0M808.6 614.9a2.5 2.5 0 1 0 5.0 0a2.5 2.5 0 1 0 -5.0 0M809.0 615.1a2.5 2.5 0 1 0 5.0 0a2.5 2.5 0 1 0 -5.0 0M809.3 614.8a2.5 2.5 0 1 0 5.0 0a2.5 2.5 0 1 0 -5.0 0M809.7 614.7a2.5 2.5 0 1 0 5.0 0a2.5 2.5 0 1 0 -5.0 0M810.1 614.9a2.5 2.5 0 1 0 5.0 0a2.5 2.5 0 1 0 -5.0 0M810.4 614.9a2.5 2.5 0 1 0 5.0 0a2.5 2.5 0 1 0 -5.0 0M810.8 614.7a2.5 2.5 0 1 0 5.0 0a2.5 2.5 0 1 0 -5.0 0M811.2 615.0a2.5 2.5 0 1 0 5.0 0a2.5 2.5 0 1 0 -5.0 0M811.6 615.3a2.5 2.5 0 1 0 5.0 0a2.5 2.5 0 1 0 -5.0 0M811.9 615.0a2.5 2.5 0 1 0 5.0 0a2.5 2.5 0 1 0 -5.0 0M812.3 615.1a2.5 2.5 0 1 0 5.0 0a2.5 2.5 0 1 0 -5.0 0M812.7 615.2a2.5 2.5 0 1 0 5.0 0a2.5 2.5 0 1 0 -5.0 0M813.0 615.2a2.5 2.5 0 1 0 5.0 0a2.5 2.5 0 1 0 -5.0 0M813.4 615.2a2.5 2.5 0 1 0 5.0 0a2.5 2.5 0 1 0 -5.0 0M813.8 615.0a2.5 2.5 0 1 0 5.0 0a2.5 2.5 0 1 0 -5.0 0M814.1 615.1a2.5 2.5 0 1 0 5.0 0a2.5 2.5 0 1 0 -5.0 0M814.5 614.8a2.5 2.5 0 1 0 5.0 0a2.5 2.5 0 1 0 -5.0 0M814.9 615.2a2.5 2.5 0 1 0 5.0 0a2.5 2.5 0 1 0 -5.0 0M815.2 614.9a2.5 2.5 0 1 0 5.0 0a2.5 2.5 0 1 0 -5.0 0M815.6 615.0a2.5 2.5 0 1 0 5.0 0a2.5 2.5 0 1 0 -5.0 0M816.0 615.2a2.5 2.5 0 1 0 5.0 0a2.5 2.5 0 1 0 -5.0 0M816.3 614.9a2.5 2.5 0 1 0 5.0 0a2.5 2.5 0 1 0 -5.0 0M816.7 614.8a2.5 2.5 0 1 0 5.0 0a2.5 2.5 0 1 0 -5.0 0M817.1 615.2a2.5 2.5 0 1 0 5.0 0a2.5 2.5 0 1 0 -5.0 0M817.4 615.1a2.5 2.5 0 1 0 5.0 0a2.5 2.5 0 1 0 -5.0 0M817.8 614.8a2.5 2.5 0 1 0 5.0 0a2.5 2.5 0 1 0 -5.0 0M818.2 614.7a2.5 2.5 0 1 0 5.0 0a2.5 2.5 0 1 0 -5.0 0M818.5 614.9a2.5 2.5 0 1 0 5.0 0a2.5 2.5 0 1 0 -5.0 0M818.9 614.7a2.5 2.5 0 1 0 5.0 0a2.5 2.5 0 1 0 -5.0 0M819.2 615.2a2.5 2.5 0 1 0 5.0 0a2.5 2.5 0 1 0 -5.0 0M819.6 614.8a2.5 2.5 0 1 0 5.0 0a2.5 2.5 0 1 0 -5.0 0M820.0 614.9a2.5 2.5 0 1 0 5.0 0a2.5 2.5 0 1 0 -5.0 0M820.3 614.9a2.5 2.5 0 1 0 5.0 0a2.5 2.5 0 1 0 -5.0 0M820.7 615.0a2.5 2.5 0 1 0 5.0 0a2.5 2.5 0 1 0 -5.0 0M821.1 615.0a2.5 2.5 0 1 0 5.0 0a2.5 2.5 0 1 0 -5.0 0M821.4 615.1a2.5 2.5 0 1 0 5.0 0a2.5 2.5 0 1 0 -5.0 0M821.8 615.1a2.5 2.5 0 1 0 5.0 0a2.5 2.5 0 1 0 -5.0 0M822.1 615.0a2.5 2.5 0 1 0 5.0 0a2.5 2.5 0 1 0 -5.0 0M822.5 614.8a2.5 2.5 0 1 0 5.0 0a2.5 2.5 0 1 0 -5.0 0M822.9 615.3a2.5 2.5 0 1 0 5.0 0a2.5 2.5 0 1 0 -5.0 0M823.2 615.1a2.5 2.5 0 1 0 5.0 0a2.5 2.5 0 1 0 -5.0 0M823.6 614.8a2.5 2.5 0 1 0 5.0 0a2.5 2.5 0 1 0 -5.0 0M823.9 615.0a2.5 2.5 0 1 0 5.0 0a2.5 2.5 0 1 0 -5.0 0M824.3 615.2a2.5 2.5 0 1 0 5.0 0a2.5 2.5 0 1 0 -5.0 0M824.6 615.3a2.5 2.5 0 1 0 5.0 0a2.5 2.5 0 1 0 -5.0 0M825.0 614.7a2.5 2.5 0 1 0 5.0 0a2.5 2.5 0 1 0 -5.0 0M825.4 614.7a2.5 2.5 0 1 0 5.0 0a2.5 2.5 0 1 0 -5.0 0M825.7 615.0a2.5 2.5 0 1 0 5.0 0a2.5 2.5 0 1 0 -5.0 0M826.1 615.0a2.5 2.5 0 1 0 5.0 0a2.5 2.5 0 1 0 -5.0 0M826.4 615.2a2.5 2.5 0 1 0 5.0 0a2.5 2.5 0 1 0 -5.0 0M826.8 615.2a2.5 2.5 0 1 0 5.0 0a2.5 2.5 0 1 0 -5.0 0M827.1 614.9a2.5 2.5 0 1 0 5.0 0a2.5 2.5 0 1 0 -5.0 0M827.5 615.0a2.5 2.5 0 1 0 5.0 0a2.5 2.5 0 1 0 -5.0 0M827.8 615.0a2.5 2.5 0 1 0 5.0 0a2.5 2.5 0 1 0 -5.0 0M828.2 615.2a2.5 2.5 0 1 0 5.0 0a2.5 2.5 0 1 0 -5.0 0M828.6 614.8a2.5 2.5 0 1 0 5.0 0a2.5 2.5 0 1 0 -5.0 0M828.9 614.9a2.5 2.5 0 1 0 5.0 0a2.5 2.5 0 1 0 -5.0 0M829.3 614.8a2.5 2.5 0 1 0 5.0 0a2.5 2.5 0 1 0 -5.0 0M829.6 615.1a2.5 2.5 0 1 0 5.0 0a2.5 2.5 0 1 0 -5.0 0M830.0 614.7a2.5 2.5 0 1 0 5.0 0a2.5 2.5 0 1 0 -5.0 0M830.3 615.3a2.5 2.5 0 1 0 5.0 0a2.5 2.5 0 1 0 -5.0 0M830.7 615.0a2.5 2.5 0 1 0 5.0 0a2.5 2.5 0 1 0 -5.0 0M831.0 615.0a2.5 2.5 0 1 0 5.0 0a2.5 2.5 0 1 0 -5.0 0M831.4 614.8a2.5 2.5 0 1 0 5.0 0a2.5 2.5 0 1 0 -5.0 0M831.7 614.8a2.5 2.5 0 1 0 5.0 0a2.5 2.5 0 1 0 -5.0 0M832.1 615.0a2.5 2.5 0 1 0 5.0 0a2.5 2.5 0 1 0 -5.0 0M832.4 615.2a2.5 2.5 0 1 0 5.0 0a2.5 2.5 0 1 0 -5.0 0M832.8 615.0a2.5 2.5 0 1 0 5.0 0a2.5 2.5 0 1 0 -5.0 0M833.1 614.9a2.5 2.5 0 1 0 5.0 0a2.5 2.5 0 1 0 -5.0 0M833.5 615.3a2.5 2.5 0 1 0 5.0 0a2.5 2.5 0 1 0 -5.0 0M833.8 615.1a2.5 2.5 0 1 0 5.0 0a2.5 2.5 0 1 0 -5.0 0M834.2 615.0a2.5 2.5 0 1 0 5.0 0a2.5 2.5 0 1 0 -5.0 0M834.5 614.8a2.5 2.5 0 1 0 5.0 0a2.5 2.5 0 1 0 -5.0 0M834.9 614.9a2.5 2.5 0 1 0 5.0 0a2.5 2.5 0 1 0 -5.0 0M835.2 615.2a2.5 2.5 0 1 0 5.0 0a2.5 2.5 0 1 0 -5.0 0M835.6 614.8a2.5 2.5 0 1 0 5.0 0a2.5 2.5 0 1 0 -5.0 0M835.9 615.0a2.5 2.5 0 1 0 5.0 0a2.5 2.5 0 1 0 -5.0 0M836.2 615.1a2.5 2.5 0 1 0 5.0 0a2.5 2.5 0 1 0 -5.0 0M836.6 614.9a2.5 2.5 0 1 0 5.0 0a2.5 2.5 0 1 0 -5.0 0M836.9 615.2a2.5 2.5 0 1 0 5.0 0a2.5 2.5 0 1 0 -5.0 0M837.3 615.2a2.5 2.5 0 1 0 5.0 0a2.5 2.5 0 1 0 -5.0 0M837.6 615.2a2.5 2.5 0 1 0 5.0 0a2.5 2.5 0 1 0 -5.0 0M838.0 615.1a2.5 2.5 0 1 0 5.0 0a2.5 2.5 0 1 0 -5.0 0M838.3 614.8a2.5 2.5 0 1 0 5.0 0a2.5 2.5 0 1 0 -5.0 0M838.7 614.7a2.5 2.5 0 1 0 5.0 0a2.5 2.5 0 1 0 -5.0 0M839.0 615.0a2.5 2.5 0 1 0 5.0 0a2.5 2.5 0 1 0 -5.0 0M839.3 614.9a2.5 2.5 0 1 0 5.0 0a2.5 2.5 0 1 0 -5.0 0M839.7 614.8a2.5 2.5 0 1 0 5.0 0a2.5 2.5 0 1 0 -5.0 0M840.0 615.2a2.5 2.5 0 1 0 5.0 0a2.5 2.5 0 1 0 -5.0 0M840.4 614.8a2.5 2.5 0 1 0 5.0 0a2.5 2.5 0 1 0 -5.0 0M840.7 615.2a2.5 2.5 0 1 0 5.0 0a2.5 2.5 0 1 0 -5.0 0M841.1 615.3a2.5 2.5 0 1 0 5.0 0a2.5 2.5 0 1 0 -5.0 0M841.4 614.8a2.5 2.5 0 1 0 5.0 0a2.5 2.5 0 1 0 -5.0 0M841.7 615.2a2.5 2.5 0 1 0 5.0 0a2.5 2.5 0 1 0 -5.0 0M842.1 614.9a2.5 2.5 0 1 0 5.0 0a2.5 2.5 0 1 0 -5.0 0M842.4 614.8a2.5 2.5 0 1 0 5.0 0a2.5 2.5 0 1 0 -5.0 0M842.8 614.8a2.5 2.5 0 1 0 5.0 0a2.5 2.5 0 1 0 -5.0 0M843.1 614.7a2.5 2.5 0 1 0 5.0 0a2.5 2.5 0 1 0 -5.0 0M843.4 615.0a2.5 2.5 0 1 0 5.0 0a2.5 2.5 0 1 0 -5.0 0M843.8 614.9a2.5 2.5 0 1 0 5.0 0a2.5 2.5 0 1 0 -5.0 0M844.1 615.2a2.5 2.5 0 1 0 5.0 0a2.5 2.5 0 1 0 -5.0 0M844.5 615.2a2.5 2.5 0 1 0 5.0 0a2.5 2.5 0 1 0 -5.0 0M844.8 614.7a2.5 2.5 0 1 0 5.0 0a2.5 2.5 0 1 0 -5.0 0M845.1 614.9a2.5 2.5 0 1 0 5.0 0a2.5 2.5 0 1 0 -5.0 0M845.5 614.9a2.5 2.5 0 1 0 5.0 0a2.5 2.5 0 1 0 -5.0 0M845.8 614.8a2.5 2.5 0 1 0 5.0 0a2.5 2.5 0 1 0 -5.0 0M846.2 614.9a2.5 2.5 0 1 0 5.0 0a2.5 2.5 0 1 0 -5.0 0M846.5 614.9a2.5 2.5 0 1 0 5.0 0a2.5 2.5 0 1 0 -5.0 0M846.8 615.1a2.5 2.5 0 1 0 5.0 0a2.5 2.5 0 1 0 -5.0 0M847.2 614.9a2.5 2.5 0 1 0 5.0 0a2.5 2.5 0 1 0 -5.0 0M847.5 614.8a2.5 2.5 0 1 0 5.0 0a2.5 2.5 0 1 0 -5.0 0M847.8 614.8a2.5 2.5 0 1 0 5.0 0a2.5 2.5 0 1 0 -5.0 0M848.2 615.0a2.5 2.5 0 1 0 5.0 0a2.5 2.5 0 1 0 -5.0 0M848.5 615.0a2.5 2.5 0 1 0 5.0 0a2.5 2.5 0 1 0 -5.0 0M848.8 614.8a2.5 2.5 0 1 0 5.0 0a2.5 2.5 0 1 0 -5.0 0M849.2 615.1a2.5 2.5 0 1 0 5.0 0a2.5 2.5 0 1 0 -5.0 0M849.5 614.8a2.5 2.5 0 1 0 5.0 0a2.5 2.5 0 1 0 -5.0 0M849.8 615.1a2.5 2.5 0 1 0 5.0 0a2.5 2.5 0 1 0 -5.0 0M850.2 615.1a2.5 2.5 0 1 0 5.0 0a2.5 2.5 0 1 0 -5.0 0M850.5 614.8a2.5 2.5 0 1 0 5.0 0a2.5 2.5 0 1 0 -5.0 0M850.8 615.2a2.5 2.5 0 1 0 5.0 0a2.5 2.5 0 1 0 -5.0 0M851.2 614.9a2.5 2.5 0 1 0 5.0 0a2.5 2.5 0 1 0 -5.0 0M851.5 615.0a2.5 2.5 0 1 0 5.0 0a2.5 2.5 0 1 0 -5.0 0M851.8 615.1a2.5 2.5 0 1 0 5.0 0a2.5 2.5 0 1 0 -5.0 0M852.2 615.1a2.5 2.5 0 1 0 5.0 0a2.5 2.5 0 1 0 -5.0 0M852.5 615.0a2.5 2.5 0 1 0 5.0 0a2.5 2.5 0 1 0 -5.0 0M852.8 614.7a2.5 2.5 0 1 0 5.0 0a2.5 2.5 0 1 0 -5.0 0M853.2 615.2a2.5 2.5 0 1 0 5.0 0a2.5 2.5 0 1 0 -5.0 0M853.5 615.2a2.5 2.5 0 1 0 5.0 0a2.5 2.5 0 1 0 -5.0 0M853.8 615.0a2.5 2.5 0 1 0 5.0 0a2.5 2.5 0 1 0 -5.0 0M854.2 615.0a2.5 2.5 0 1 0 5.0 0a2.5 2.5 0 1 0 -5.0 0M854.5 614.9a2.5 2.5 0 1 0 5.0 0a2.5 2.5 0 1 0 -5.0 0M854.8 615.2a2.5 2.5 0 1 0 5.0 0a2.5 2.5 0 1 0 -5.0 0M855.1 615.1a2.5 2.5 0 1 0 5.0 0a2.5 2.5 0 1 0 -5.0 0M855.5 614.8a2.5 2.5 0 1 0 5.0 0a2.5 2.5 0 1 0 -5.0 0M855.8 615.2a2.5 2.5 0 1 0 5.0 0a2.5 2.5 0 1 0 -5.0 0M856.1 615.3a2.5 2.5 0 1 0 5.0 0a2.5 2.5 0 1 0 -5.0 0M856.5 614.9a2.5 2.5 0 1 0 5.0 0a2.5 2.5 0 1 0 -5.0 0M856.8 615.3a2.5 2.5 0 1 0 5.0 0a2.5 2.5 0 1 0 -5.0 0M857.1 615.0a2.5 2.5 0 1 0 5.0 0a2.5 2.5 0 1 0 -5.0 0M857.4 614.8a2.5 2.5 0 1 0 5.0 0a2.5 2.5 0 1 0 -5.0 0M857.8 615.1a2.5 2.5 0 1 0 5.0 0a2.5 2.5 0 1 0 -5.0 0M858.1 614.9a2.5 2.5 0 1 0 5.0 0a2.5 2.5 0 1 0 -5.0 0M858.4 615.1a2.5 2.5 0 1 0 5.0 0a2.5 2.5 0 1 0 -5.0 0M858.7 615.1a2.5 2.5 0 1 0 5.0 0a2.5 2.5 0 1 0 -5.0 0M859.1 614.8a2.5 2.5 0 1 0 5.0 0a2.5 2.5 0 1 0 -5.0 0M859.4 615.0a2.5 2.5 0 1 0 5.0 0a2.5 2.5 0 1 0 -5.0 0M859.7 615.2a2.5 2.5 0 1 0 5.0 0a2.5 2.5 0 1 0 -5.0 0M860.0 615.0a2.5 2.5 0 1 0 5.0 0a2.5 2.5 0 1 0 -5.0 0M860.4 615.0a2.5 2.5 0 1 0 5.0 0a2.5 2.5 0 1 0 -5.0 0M860.7 615.2a2.5 2.5 0 1 0 5.0 0a2.5 2.5 0 1 0 -5.0 0M861.0 615.0a2.5 2.5 0 1 0 5.0 0a2.5 2.5 0 1 0 -5.0 0M861.3 615.0a2.5 2.5 0 1 0 5.0 0a2.5 2.5 0 1 0 -5.0 0M861.7 615.0a2.5 2.5 0 1 0 5.0 0a2.5 2.5 0 1 0 -5.0 0M862.0 615.2a2.5 2.5 0 1 0 5.0 0a2.5 2.5 0 1 0 -5.0 0M862.3 614.8a2.5 2.5 0 1 0 5.0 0a2.5 2.5 0 1 0 -5.0 0M862.6 614.8a2.5 2.5 0 1 0 5.0 0a2.5 2.5 0 1 0 -5.0 0M863.0 615.2a2.5 2.5 0 1 0 5.0 0a2.5 2.5 0 1 0 -5.0 0M863.3 615.0a2.5 2.5 0 1 0 5.0 0a2.5 2.5 0 1 0 -5.0 0M863.6 614.9a2.5 2.5 0 1 0 5.0 0a2.5 2.5 0 1 0 -5.0 0M863.9 615.2a2.5 2.5 0 1 0 5.0 0a2.5 2.5 0 1 0 -5.0 0M864.3 615.2a2.5 2.5 0 1 0 5.0 0a2.5 2.5 0 1 0 -5.0 0M864.6 615.0a2.5 2.5 0 1 0 5.0 0a2.5 2.5 0 1 0 -5.0 0M864.9 615.3a2.5 2.5 0 1 0 5.0 0a2.5 2.5 0 1 0 -5.0 0M865.2 615.2a2.5 2.5 0 1 0 5.0 0a2.5 2.5 0 1 0 -5.0 0M865.5 615.1a2.5 2.5 0 1 0 5.0 0a2.5 2.5 0 1 0 -5.0 0M865.9 614.9a2.5 2.5 0 1 0 5.0 0a2.5 2.5 0 1 0 -5.0 0M866.2 614.7a2.5 2.5 0 1 0 5.0 0a2.5 2.5 0 1 0 -5.0 0M866.5 615.1a2.5 2.5 0 1 0 5.0 0a2.5 2.5 0 1 0 -5.0 0M866.8 615.1a2.5 2.5 0 1 0 5.0 0a2.5 2.5 0 1 0 -5.0 0M867.1 614.9a2.5 2.5 0 1 0 5.0 0a2.5 2.5 0 1 0 -5.0 0M867.5 615.0a2.5 2.5 0 1 0 5.0 0a2.5 2.5 0 1 0 -5.0 0M867.8 615.0a2.5 2.5 0 1 0 5.0 0a2.5 2.5 0 1 0 -5.0 0M868.1 614.8a2.5 2.5 0 1 0 5.0 0a2.5 2.5 0 1 0 -5.0 0M868.4 615.1a2.5 2.5 0 1 0 5.0 0a2.5 2.5 0 1 0 -5.0 0M868.7 615.0a2.5 2.5 0 1 0 5.0 0a2.5 2.5 0 1 0 -5.0 0M869.0 614.9a2.5 2.5 0 1 0 5.0 0a2.5 2.5 0 1 0 -5.0 0M869.4 614.8a2.5 2.5 0 1 0 5.0 0a2.5 2.5 0 1 0 -5.0 0M869.7 615.0a2.5 2.5 0 1 0 5.0 0a2.5 2.5 0 1 0 -5.0 0M870.0 614.9a2.5 2.5 0 1 0 5.0 0a2.5 2.5 0 1 0 -5.0 0M870.3 615.1a2.5 2.5 0 1 0 5.0 0a2.5 2.5 0 1 0 -5.0 0M870.6 614.8a2.5 2.5 0 1 0 5.0 0a2.5 2.5 0 1 0 -5.0 0M870.9 614.9a2.5 2.5 0 1 0 5.0 0a2.5 2.5 0 1 0 -5.0 0M871.3 614.8a2.5 2.5 0 1 0 5.0 0a2.5 2.5 0 1 0 -5.0 0M871.6 614.9a2.5 2.5 0 1 0 5.0 0a2.5 2.5 0 1 0 -5.0 0M871.9 615.0a2.5 2.5 0 1 0 5.0 0a2.5 2.5 0 1 0 -5.0 0M872.2 614.8a2.5 2.5 0 1 0 5.0 0a2.5 2.5 0 1 0 -5.0 0M872.5 614.7a2.5 2.5 0 1 0 5.0 0a2.5 2.5 0 1 0 -5.0 0M872.8 615.0a2.5 2.5 0 1 0 5.0 0a2.5 2.5 0 1 0 -5.0 0M873.1 614.8a2.5 2.5 0 1 0 5.0 0a2.5 2.5 0 1 0 -5.0 0M873.5 615.0a2.5 2.5 0 1 0 5.0 0a2.5 2.5 0 1 0 -5.0 0M873.8 614.8a2.5 2.5 0 1 0 5.0 0a2.5 2.5 0 1 0 -5.0 0M874.1 614.8a2.5 2.5 0 1 0 5.0 0a2.5 2.5 0 1 0 -5.0 0M874.4 615.0a2.5 2.5 0 1 0 5.0 0a2.5 2.5 0 1 0 -5.0 0M874.7 615.3a2.5 2.5 0 1 0 5.0 0a2.5 2.5 0 1 0 -5.0 0M875.0 615.2a2.5 2.5 0 1 0 5.0 0a2.5 2.5 0 1 0 -5.0 0M875.3 615.0a2.5 2.5 0 1 0 5.0 0a2.5 2.5 0 1 0 -5.0 0M875.7 614.9a2.5 2.5 0 1 0 5.0 0a2.5 2.5 0 1 0 -5.0 0M876.0 614.7a2.5 2.5 0 1 0 5.0 0a2.5 2.5 0 1 0 -5.0 0M876.3 614.9a2.5 2.5 0 1 0 5.0 0a2.5 2.5 0 1 0 -5.0 0M876.6 614.9a2.5 2.5 0 1 0 5.0 0a2.5 2.5 0 1 0 -5.0 0M876.9 615.3a2.5 2.5 0 1 0 5.0 0a2.5 2.5 0 1 0 -5.0 0M877.2 614.8a2.5 2.5 0 1 0 5.0 0a2.5 2.5 0 1 0 -5.0 0M877.5 615.3a2.5 2.5 0 1 0 5.0 0a2.5 2.5 0 1 0 -5.0 0M877.8 615.0a2.5 2.5 0 1 0 5.0 0a2.5 2.5 0 1 0 -5.0 0M878.1 615.0a2.5 2.5 0 1 0 5.0 0a2.5 2.5 0 1 0 -5.0 0M878.5 614.9a2.5 2.5 0 1 0 5.0 0a2.5 2.5 0 1 0 -5.0 0M878.8 615.3a2.5 2.5 0 1 0 5.0 0a2.5 2.5 0 1 0 -5.0 0M879.1 614.8a2.5 2.5 0 1 0 5.0 0a2.5 2.5 0 1 0 -5.0 0M879.4 615.0a2.5 2.5 0 1 0 5.0 0a2.5 2.5 0 1 0 -5.0 0M879.7 615.0a2.5 2.5 0 1 0 5.0 0a2.5 2.5 0 1 0 -5.0 0M880.0 614.8a2.5 2.5 0 1 0 5.0 0a2.5 2.5 0 1 0 -5.0 0M880.3 614.8a2.5 2.5 0 1 0 5.0 0a2.5 2.5 0 1 0 -5.0 0M880.6 615.3a2.5 2.5 0 1 0 5.0 0a2.5 2.5 0 1 0 -5.0 0M880.9 615.2a2.5 2.5 0 1 0 5.0 0a2.5 2.5 0 1 0 -5.0 0M881.2 615.1a2.5 2.5 0 1 0 5.0 0a2.5 2.5 0 1 0 -5.0 0M881.5 615.2a2.5 2.5 0 1 0 5.0 0a2.5 2.5 0 1 0 -5.0 0M881.8 614.8a2.5 2.5 0 1 0 5.0 0a2.5 2.5 0 1 0 -5.0 0M882.2 615.1a2.5 2.5 0 1 0 5.0 0a2.5 2.5 0 1 0 -5.0 0M882.5 615.2a2.5 2.5 0 1 0 5.0 0a2.5 2.5 0 1 0 -5.0 0M882.8 614.8a2.5 2.5 0 1 0 5.0 0a2.5 2.5 0 1 0 -5.0 0M883.1 615.0a2.5 2.5 0 1 0 5.0 0a2.5 2.5 0 1 0 -5.0 0M883.4 615.3a2.5 2.5 0 1 0 5.0 0a2.5 2.5 0 1 0 -5.0 0M883.7 614.9a2.5 2.5 0 1 0 5.0 0a2.5 2.5 0 1 0 -5.0 0M884.0 615.2a2.5 2.5 0 1 0 5.0 0a2.5 2.5 0 1 0 -5.0 0M884.3 614.8a2.5 2.5 0 1 0 5.0 0a2.5 2.5 0 1 0 -5.0 0M884.6 615.1a2.5 2.5 0 1 0 5.0 0a2.5 2.5 0 1 0 -5.0 0M884.9 614.9a2.5 2.5 0 1 0 5.0 0a2.5 2.5 0 1 0 -5.0 0M885.2 615.0a2.5 2.5 0 1 0 5.0 0a2.5 2.5 0 1 0 -5.0 0M885.5 614.9a2.5 2.5 0 1 0 5.0 0a2.5 2.5 0 1 0 -5.0 0M885.8 615.2a2.5 2.5 0 1 0 5.0 0a2.5 2.5 0 1 0 -5.0 0M886.1 615.1a2.5 2.5 0 1 0 5.0 0a2.5 2.5 0 1 0 -5.0 0M886.4 615.0a2.5 2.5 0 1 0 5.0 0a2.5 2.5 0 1 0 -5.0 0M886.7 615.1a2.5 2.5 0 1 0 5.0 0a2.5 2.5 0 1 0 -5.0 0M887.0 615.0a2.5 2.5 0 1 0 5.0 0a2.5 2.5 0 1 0 -5.0 0M887.3 615.2a2.5 2.5 0 1 0 5.0 0a2.5 2.5 0 1 0 -5.0 0M887.6 614.9a2.5 2.5 0 1 0 5.0 0a2.5 2.5 0 1 0 -5.0 0M887.9 615.0a2.5 2.5 0 1 0 5.0 0a2.5 2.5 0 1 0 -5.0 0M888.2 615.1a2.5 2.5 0 1 0 5.0 0a2.5 2.5 0 1 0 -5.0 0M888.5 614.9a2.5 2.5 0 1 0 5.0 0a2.5 2.5 0 1 0 -5.0 0M888.9 614.7a2.5 2.5 0 1 0 5.0 0a2.5 2.5 0 1 0 -5.0 0M889.2 614.8a2.5 2.5 0 1 0 5.0 0a2.5 2.5 0 1 0 -5.0 0M889.5 615.1a2.5 2.5 0 1 0 5.0 0a2.5 2.5 0 1 0 -5.0 0M889.8 614.8a2.5 2.5 0 1 0 5.0 0a2.5 2.5 0 1 0 -5.0 0M890.1 615.2a2.5 2.5 0 1 0 5.0 0a2.5 2.5 0 1 0 -5.0 0M890.4 615.0a2.5 2.5 0 1 0 5.0 0a2.5 2.5 0 1 0 -5.0 0M890.7 615.3a2.5 2.5 0 1 0 5.0 0a2.5 2.5 0 1 0 -5.0 0M891.0 615.2a2.5 2.5 0 1 0 5.0 0a2.5 2.5 0 1 0 -5.0 0M891.3 615.1a2.5 2.5 0 1 0 5.0 0a2.5 2.5 0 1 0 -5.0 0M891.6 614.9a2.5 2.5 0 1 0 5.0 0a2.5 2.5 0 1 0 -5.0 0M891.9 614.7a2.5 2.5 0 1 0 5.0 0a2.5 2.5 0 1 0 -5.0 0M892.2 615.0a2.5 2.5 0 1 0 5.0 0a2.5 2.5 0 1 0 -5.0 0M892.5 615.1a2.5 2.5 0 1 0 5.0 0a2.5 2.5 0 1 0 -5.0 0M892.8 615.3a2.5 2.5 0 1 0 5.0 0a2.5 2.5 0 1 0 -5.0 0M893.1 614.8a2.5 2.5 0 1 0 5.0 0a2.5 2.5 0 1 0 -5.0 0M893.4 614.8a2.5 2.5 0 1 0 5.0 0a2.5 2.5 0 1 0 -5.0 0M893.7 615.3a2.5 2.5 0 1 0 5.0 0a2.5 2.5 0 1 0 -5.0 0M893.9 615.1a2.5 2.5 0 1 0 5.0 0a2.5 2.5 0 1 0 -5.0 0M894.2 615.0a2.5 2.5 0 1 0 5.0 0a2.5 2.5 0 1 0 -5.0 0M894.5 615.1a2.5 2.5 0 1 0 5.0 0a2.5 2.5 0 1 0 -5.0 0M894.8 614.8a2.5 2.5 0 1 0 5.0 0a2.5 2.5 0 1 0 -5.0 0M895.1 615.0a2.5 2.5 0 1 0 5.0 0a2.5 2.5 0 1 0 -5.0 0M895.4 615.1a2.5 2.5 0 1 0 5.0 0a2.5 2.5 0 1 0 -5.0 0M895.7 615.1a2.5 2.5 0 1 0 5.0 0a2.5 2.5 0 1 0 -5.0 0M896.0 614.8a2.5 2.5 0 1 0 5.0 0a2.5 2.5 0 1 0 -5.0 0M896.3 614.8a2.5 2.5 0 1 0 5.0 0a2.5 2.5 0 1 0 -5.0 0M896.6 615.1a2.5 2.5 0 1 0 5.0 0a2.5 2.5 0 1 0 -5.0 0M896.9 615.2a2.5 2.5 0 1 0 5.0 0a2.5 2.5 0 1 0 -5.0 0M897.2 614.8a2.5 2.5 0 1 0 5.0 0a2.5 2.5 0 1 0 -5.0 0M897.5 614.7a2.5 2.5 0 1 0 5.0 0a2.5 2.5 0 1 0 -5.0 0M897.8 614.7a2.5 2.5 0 1 0 5.0 0a2.5 2.5 0 1 0 -5.0 0M898.1 615.2a2.5 2.5 0 1 0 5.0 0a2.5 2.5 0 1 0 -5.0 0M898.4 614.9a2.5 2.5 0 1 0 5.0 0a2.5 2.5 0 1 0 -5.0 0M898.7 615.0a2.5 2.5 0 1 0 5.0 0a2.5 2.5 0 1 0 -5.0 0M899.0 615.3a2.5 2.5 0 1 0 5.0 0a2.5 2.5 0 1 0 -5.0 0M899.3 615.1a2.5 2.5 0 1 0 5.0 0a2.5 2.5 0 1 0 -5.0 0M899.6 614.9a2.5 2.5 0 1 0 5.0 0a2.5 2.5 0 1 0 -5.0 0M899.9 615.1a2.5 2.5 0 1 0 5.0 0a2.5 2.5 0 1 0 -5.0 0M900.2 614.7a2.5 2.5 0 1 0 5.0 0a2.5 2.5 0 1 0 -5.0 0M900.5 614.9a2.5 2.5 0 1 0 5.0 0a2.5 2.5 0 1 0 -5.0 0M900.7 615.1a2.5 2.5 0 1 0 5.0 0a2.5 2.5 0 1 0 -5.0 0M901.0 614.8a2.5 2.5 0 1 0 5.0 0a2.5 2.5 0 1 0 -5.0 0M901.3 614.7a2.5 2.5 0 1 0 5.0 0a2.5 2.5 0 1 0 -5.0 0M901.6 615.0a2.5 2.5 0 1 0 5.0 0a2.5 2.5 0 1 0 -5.0 0M901.9 614.9a2.5 2.5 0 1 0 5.0 0a2.5 2.5 0 1 0 -5.0 0M902.2 615.3a2.5 2.5 0 1 0 5.0 0a2.5 2.5 0 1 0 -5.0 0M902.5 614.8a2.5 2.5 0 1 0 5.0 0a2.5 2.5 0 1 0 -5.0 0M902.8 615.2a2.5 2.5 0 1 0 5.0 0a2.5 2.5 0 1 0 -5.0 0M903.1 614.9a2.5 2.5 0 1 0 5.0 0a2.5 2.5 0 1 0 -5.0 0M903.4 615.2a2.5 2.5 0 1 0 5.0 0a2.5 2.5 0 1 0 -5.0 0M903.7 615.0a2.5 2.5 0 1 0 5.0 0a2.5 2.5 0 1 0 -5.0 0M904.0 615.1a2.5 2.5 0 1 0 5.0 0a2.5 2.5 0 1 0 -5.0 0M904.2 614.9a2.5 2.5 0 1 0 5.0 0a2.5 2.5 0 1 0 -5.0 0M904.5 614.8a2.5 2.5 0 1 0 5.0 0a2.5 2.5 0 1 0 -5.0 0M904.8 615.0a2.5 2.5 0 1 0 5.0 0a2.5 2.5 0 1 0 -5.0 0M905.1 615.2a2.5 2.5 0 1 0 5.0 0a2.5 2.5 0 1 0 -5.0 0M905.4 614.9a2.5 2.5 0 1 0 5.0 0a2.5 2.5 0 1 0 -5.0 0M905.7 614.8a2.5 2.5 0 1 0 5.0 0a2.5 2.5 0 1 0 -5.0 0M906.0 614.9a2.5 2.5 0 1 0 5.0 0a2.5 2.5 0 1 0 -5.0 0M906.3 614.8a2.5 2.5 0 1 0 5.0 0a2.5 2.5 0 1 0 -5.0 0M906.6 614.9a2.5 2.5 0 1 0 5.0 0a2.5 2.5 0 1 0 -5.0 0M906.9 615.0a2.5 2.5 0 1 0 5.0 0a2.5 2.5 0 1 0 -5.0 0M907.1 615.0a2.5 2.5 0 1 0 5.0 0a2.5 2.5 0 1 0 -5.0 0M907.4 615.1a2.5 2.5 0 1 0 5.0 0a2.5 2.5 0 1 0 -5.0 0M907.7 614.9a2.5 2.5 0 1 0 5.0 0a2.5 2.5 0 1 0 -5.0 0M908.0 614.7a2.5 2.5 0 1 0 5.0 0a2.5 2.5 0 1 0 -5.0 0M908.3 614.7a2.5 2.5 0 1 0 5.0 0a2.5 2.5 0 1 0 -5.0 0M908.6 614.9a2.5 2.5 0 1 0 5.0 0a2.5 2.5 0 1 0 -5.0 0M908.9 614.8a2.5 2.5 0 1 0 5.0 0a2.5 2.5 0 1 0 -5.0 0M909.2 615.0a2.5 2.5 0 1 0 5.0 0a2.5 2.5 0 1 0 -5.0 0M909.4 614.9a2.5 2.5 0 1 0 5.0 0a2.5 2.5 0 1 0 -5.0 0M909.7 615.2a2.5 2.5 0 1 0 5.0 0a2.5 2.5 0 1 0 -5.0 0M910.0 615.1a2.5 2.5 0 1 0 5.0 0a2.5 2.5 0 1 0 -5.0 0M910.3 615.1a2.5 2.5 0 1 0 5.0 0a2.5 2.5 0 1 0 -5.0 0M910.6 615.1a2.5 2.5 0 1 0 5.0 0a2.5 2.5 0 1 0 -5.0 0M910.9 615.0a2.5 2.5 0 1 0 5.0 0a2.5 2.5 0 1 0 -5.0 0M911.2 615.0a2.5 2.5 0 1 0 5.0 0a2.5 2.5 0 1 0 -5.0 0M911.4 614.9a2.5 2.5 0 1 0 5.0 0a2.5 2.5 0 1 0 -5.0 0M911.7 614.7a2.5 2.5 0 1 0 5.0 0a2.5 2.5 0 1 0 -5.0 0M912.0 615.2a2.5 2.5 0 1 0 5.0 0a2.5 2.5 0 1 0 -5.0 0M912.3 615.0a2.5 2.5 0 1 0 5.0 0a2.5 2.5 0 1 0 -5.0 0M912.6 614.8a2.5 2.5 0 1 0 5.0 0a2.5 2.5 0 1 0 -5.0 0M912.9 615.3a2.5 2.5 0 1 0 5.0 0a2.5 2.5 0 1 0 -5.0 0M913.2 615.0a2.5 2.5 0 1 0 5.0 0a2.5 2.5 0 1 0 -5.0 0M913.4 615.1a2.5 2.5 0 1 0 5.0 0a2.5 2.5 0 1 0 -5.0 0M913.7 615.0a2.5 2.5 0 1 0 5.0 0a2.5 2.5 0 1 0 -5.0 0M914.0 614.8a2.5 2.5 0 1 0 5.0 0a2.5 2.5 0 1 0 -5.0 0M914.3 615.3a2.5 2.5 0 1 0 5.0 0a2.5 2.5 0 1 0 -5.0 0M914.6 614.8a2.5 2.5 0 1 0 5.0 0a2.5 2.5 0 1 0 -5.0 0M914.9 614.9a2.5 2.5 0 1 0 5.0 0a2.5 2.5 0 1 0 -5.0 0M915.1 615.3a2.5 2.5 0 1 0 5.0 0a2.5 2.5 0 1 0 -5.0 0M915.4 614.8a2.5 2.5 0 1 0 5.0 0a2.5 2.5 0 1 0 -5.0 0M915.7 615.0a2.5 2.5 0 1 0 5.0 0a2.5 2.5 0 1 0 -5.0 0M916.0 615.0a2.5 2.5 0 1 0 5.0 0a2.5 2.5 0 1 0 -5.0 0M916.3 614.8a2.5 2.5 0 1 0 5.0 0a2.5 2.5 0 1 0 -5.0 0M916.6 615.3a2.5 2.5 0 1 0 5.0 0a2.5 2.5 0 1 0 -5.0 0M916.8 614.9a2.5 2.5 0 1 0 5.0 0a2.5 2.5 0 1 0 -5.0 0M917.1 614.7a2.5 2.5 0 1 0 5.0 0a2.5 2.5 0 1 0 -5.0 0M917.4 615.0a2.5 2.5 0 1 0 5.0 0a2.5 2.5 0 1 0 -5.0 0M917.7 614.7a2.5 2.5 0 1 0 5.0 0a2.5 2.5 0 1 0 -5.0 0M918.0 615.1a2.5 2.5 0 1 0 5.0 0a2.5 2.5 0 1 0 -5.0 0M918.2 615.2a2.5 2.5 0 1 0 5.0 0a2.5 2.5 0 1 0 -5.0 0M918.5 615.2a2.5 2.5 0 1 0 5.0 0a2.5 2.5 0 1 0 -5.0 0M918.8 614.7a2.5 2.5 0 1 0 5.0 0a2.5 2.5 0 1 0 -5.0 0M919.1 615.1a2.5 2.5 0 1 0 5.0 0a2.5 2.5 0 1 0 -5.0 0M919.4 614.9a2.5 2.5 0 1 0 5.0 0a2.5 2.5 0 1 0 -5.0 0M919.6 615.0a2.5 2.5 0 1 0 5.0 0a2.5 2.5 0 1 0 -5.0 0M919.9 614.9a2.5 2.5 0 1 0 5.0 0a2.5 2.5 0 1 0 -5.0 0M920.2 614.9a2.5 2.5 0 1 0 5.0 0a2.5 2.5 0 1 0 -5.0 0M920.5 614.8a2.5 2.5 0 1 0 5.0 0a2.5 2.5 0 1 0 -5.0 0M920.8 615.1a2.5 2.5 0 1 0 5.0 0a2.5 2.5 0 1 0 -5.0 0M921.0 614.8a2.5 2.5 0 1 0 5.0 0a2.5 2.5 0 1 0 -5.0 0M921.3 615.3a2.5 2.5 0 1 0 5.0 0a2.5 2.5 0 1 0 -5.0 0M921.6 614.7a2.5 2.5 0 1 0 5.0 0a2.5 2.5 0 1 0 -5.0 0M921.9 615.3a2.5 2.5 0 1 0 5.0 0a2.5 2.5 0 1 0 -5.0 0M922.2 614.8a2.5 2.5 0 1 0 5.0 0a2.5 2.5 0 1 0 -5.0 0M922.4 614.8a2.5 2.5 0 1 0 5.0 0a2.5 2.5 0 1 0 -5.0 0M922.7 615.1a2.5 2.5 0 1 0 5.0 0a2.5 2.5 0 1 0 -5.0 0M923.0 615.0a2.5 2.5 0 1 0 5.0 0a2.5 2.5 0 1 0 -5.0 0M923.3 615.2a2.5 2.5 0 1 0 5.0 0a2.5 2.5 0 1 0 -5.0 0M923.5 615.0a2.5 2.5 0 1 0 5.0 0a2.5 2.5 0 1 0 -5.0 0M923.8 615.1a2.5 2.5 0 1 0 5.0 0a2.5 2.5 0 1 0 -5.0 0M924.1 614.7a2.5 2.5 0 1 0 5.0 0a2.5 2.5 0 1 0 -5.0 0M924.4 615.1a2.5 2.5 0 1 0 5.0 0a2.5 2.5 0 1 0 -5.0 0M924.6 615.0a2.5 2.5 0 1 0 5.0 0a2.5 2.5 0 1 0 -5.0 0M924.9 615.3a2.5 2.5 0 1 0 5.0 0a2.5 2.5 0 1 0 -5.0 0M925.2 614.7a2.5 2.5 0 1 0 5.0 0a2.5 2.5 0 1 0 -5.0 0M925.5 614.7a2.5 2.5 0 1 0 5.0 0a2.5 2.5 0 1 0 -5.0 0M925.8 615.1a2.5 2.5 0 1 0 5.0 0a2.5 2.5 0 1 0 -5.0 0M926.0 615.3a2.5 2.5 0 1 0 5.0 0a2.5 2.5 0 1 0 -5.0 0M926.3 615.0a2.5 2.5 0 1 0 5.0 0a2.5 2.5 0 1 0 -5.0 0M926.6 615.1a2.5 2.5 0 1 0 5.0 0a2.5 2.5 0 1 0 -5.0 0M926.9 615.0a2.5 2.5 0 1 0 5.0 0a2.5 2.5 0 1 0 -5.0 0M927.1 614.9a2.5 2.5 0 1 0 5.0 0a2.5 2.5 0 1 0 -5.0 0M927.4 615.0a2.5 2.5 0 1 0 5.0 0a2.5 2.5 0 1 0 -5.0 0M927.7 615.1a2.5 2.5 0 1 0 5.0 0a2.5 2.5 0 1 0 -5.0 0M928.0 614.7a2.5 2.5 0 1 0 5.0 0a2.5 2.5 0 1 0 -5.0 0M928.2 614.9a2.5 2.5 0 1 0 5.0 0a2.5 2.5 0 1 0 -5.0 0M928.5 615.1a2.5 2.5 0 1 0 5.0 0a2.5 2.5 0 1 0 -5.0 0M928.8 614.9a2.5 2.5 0 1 0 5.0 0a2.5 2.5 0 1 0 -5.0 0M929.0 615.0a2.5 2.5 0 1 0 5.0 0a2.5 2.5 0 1 0 -5.0 0M929.3 614.9a2.5 2.5 0 1 0 5.0 0a2.5 2.5 0 1 0 -5.0 0M929.6 614.9a2.5 2.5 0 1 0 5.0 0a2.5 2.5 0 1 0 -5.0 0M929.9 615.1a2.5 2.5 0 1 0 5.0 0a2.5 2.5 0 1 0 -5.0 0M930.1 615.1a2.5 2.5 0 1 0 5.0 0a2.5 2.5 0 1 0 -5.0 0M930.4 615.3a2.5 2.5 0 1 0 5.0 0a2.5 2.5 0 1 0 -5.0 0M930.7 615.0a2.5 2.5 0 1 0 5.0 0a2.5 2.5 0 1 0 -5.0 0M931.0 614.8a2.5 2.5 0 1 0 5.0 0a2.5 2.5 0 1 0 -5.0 0M931.2 614.9a2.5 2.5 0 1 0 5.0 0a2.5 2.5 0 1 0 -5.0 0M931.5 614.7a2.5 2.5 0 1 0 5.0 0a2.5 2.5 0 1 0 -5.0 0M931.8 614.8a2.5 2.5 0 1 0 5.0 0a2.5 2.5 0 1 0 -5.0 0M932.0 615.1a2.5 2.5 0 1 0 5.0 0a2.5 2.5 0 1 0 -5.0 0M932.3 615.1a2.5 2.5 0 1 0 5.0 0a2.5 2.5 0 1 0 -5.0 0M932.6 614.8a2.5 2.5 0 1 0 5.0 0a2.5 2.5 0 1 0 -5.0 0M932.9 614.8a2.5 2.5 0 1 0 5.0 0a2.5 2.5 0 1 0 -5.0 0M933.1 614.8a2.5 2.5 0 1 0 5.0 0a2.5 2.5 0 1 0 -5.0 0M933.4 614.8a2.5 2.5 0 1 0 5.0 0a2.5 2.5 0 1 0 -5.0 0M933.7 615.0a2.5 2.5 0 1 0 5.0 0a2.5 2.5 0 1 0 -5.0 0M933.9 614.9a2.5 2.5 0 1 0 5.0 0a2.5 2.5 0 1 0 -5.0 0M934.2 615.2a2.5 2.5 0 1 0 5.0 0a2.5 2.5 0 1 0 -5.0 0M934.5 615.0a2.5 2.5 0 1 0 5.0 0a2.5 2.5 0 1 0 -5.0 0M934.8 614.9a2.5 2.5 0 1 0 5.0 0a2.5 2.5 0 1 0 -5.0 0M935.0 615.0a2.5 2.5 0 1 0 5.0 0a2.5 2.5 0 1 0 -5.0 0M935.3 614.7a2.5 2.5 0 1 0 5.0 0a2.5 2.5 0 1 0 -5.0 0M935.6 615.1a2.5 2.5 0 1 0 5.0 0a2.5 2.5 0 1 0 -5.0 0M935.8 615.2a2.5 2.5 0 1 0 5.0 0a2.5 2.5 0 1 0 -5.0 0M936.1 614.9a2.5 2.5 0 1 0 5.0 0a2.5 2.5 0 1 0 -5.0 0M936.4 615.1a2.5 2.5 0 1 0 5.0 0a2.5 2.5 0 1 0 -5.0 0M936.6 614.9a2.5 2.5 0 1 0 5.0 0a2.5 2.5 0 1 0 -5.0 0M936.9 614.8a2.5 2.5 0 1 0 5.0 0a2.5 2.5 0 1 0 -5.0 0M937.2 614.8a2.5 2.5 0 1 0 5.0 0a2.5 2.5 0 1 0 -5.0 0M937.4 614.8a2.5 2.5 0 1 0 5.0 0a2.5 2.5 0 1 0 -5.0 0M937.7 615.1a2.5 2.5 0 1 0 5.0 0a2.5 2.5 0 1 0 -5.0 0M938.0 615.1a2.5 2.5 0 1 0 5.0 0a2.5 2.5 0 1 0 -5.0 0M938.2 615.1a2.5 2.5 0 1 0 5.0 0a2.5 2.5 0 1 0 -5.0 0M938.5 614.8a2.5 2.5 0 1 0 5.0 0a2.5 2.5 0 1 0 -5.0 0M938.8 615.2a2.5 2.5 0 1 0 5.0 0a2.5 2.5 0 1 0 -5.0 0M939.0 615.0a2.5 2.5 0 1 0 5.0 0a2.5 2.5 0 1 0 -5.0 0M939.3 614.9a2.5 2.5 0 1 0 5.0 0a2.5 2.5 0 1 0 -5.0 0M939.6 615.0a2.5 2.5 0 1 0 5.0 0a2.5 2.5 0 1 0 -5.0 0M939.8 615.0a2.5 2.5 0 1 0 5.0 0a2.5 2.5 0 1 0 -5.0 0M940.1 614.8a2.5 2.5 0 1 0 5.0 0a2.5 2.5 0 1 0 -5.0 0M940.4 614.9a2.5 2.5 0 1 0 5.0 0a2.5 2.5 0 1 0 -5.0 0M940.6 615.1a2.5 2.5 0 1 0 5.0 0a2.5 2.5 0 1 0 -5.0 0M940.9 615.1a2.5 2.5 0 1 0 5.0 0a2.5 2.5 0 1 0 -5.0 0M941.2 615.2a2.5 2.5 0 1 0 5.0 0a2.5 2.5 0 1 0 -5.0 0M941.4 614.8a2.5 2.5 0 1 0 5.0 0a2.5 2.5 0 1 0 -5.0 0M941.7 615.2a2.5 2.5 0 1 0 5.0 0a2.5 2.5 0 1 0 -5.0 0M942.0 615.2a2.5 2.5 0 1 0 5.0 0a2.5 2.5 0 1 0 -5.0 0M942.2 615.1a2.5 2.5 0 1 0 5.0 0a2.5 2.5 0 1 0 -5.0 0M942.5 615.3a2.5 2.5 0 1 0 5.0 0a2.5 2.5 0 1 0 -5.0 0M942.8 614.8a2.5 2.5 0 1 0 5.0 0a2.5 2.5 0 1 0 -5.0 0M943.0 615.2a2.5 2.5 0 1 0 5.0 0a2.5 2.5 0 1 0 -5.0 0M943.3 615.2a2.5 2.5 0 1 0 5.0 0a2.5 2.5 0 1 0 -5.0 0M943.6 614.8a2.5 2.5 0 1 0 5.0 0a2.5 2.5 0 1 0 -5.0 0M943.8 615.1a2.5 2.5 0 1 0 5.0 0a2.5 2.5 0 1 0 -5.0 0M944.1 615.3a2.5 2.5 0 1 0 5.0 0a2.5 2.5 0 1 0 -5.0 0M944.4 614.9a2.5 2.5 0 1 0 5.0 0a2.5 2.5 0 1 0 -5.0 0M944.6 615.2a2.5 2.5 0 1 0 5.0 0a2.5 2.5 0 1 0 -5.0 0M944.9 615.2a2.5 2.5 0 1 0 5.0 0a2.5 2.5 0 1 0 -5.0 0M945.1 615.0a2.5 2.5 0 1 0 5.0 0a2.5 2.5 0 1 0 -5.0 0M945.4 614.8a2.5 2.5 0 1 0 5.0 0a2.5 2.5 0 1 0 -5.0 0M945.7 614.8a2.5 2.5 0 1 0 5.0 0a2.5 2.5 0 1 0 -5.0 0M945.9 615.2a2.5 2.5 0 1 0 5.0 0a2.5 2.5 0 1 0 -5.0 0M946.2 615.0a2.5 2.5 0 1 0 5.0 0a2.5 2.5 0 1 0 -5.0 0M946.5 614.9a2.5 2.5 0 1 0 5.0 0a2.5 2.5 0 1 0 -5.0 0M946.7 615.0a2.5 2.5 0 1 0 5.0 0a2.5 2.5 0 1 0 -5.0 0M947.0 615.3a2.5 2.5 0 1 0 5.0 0a2.5 2.5 0 1 0 -5.0 0M947.2 614.9a2.5 2.5 0 1 0 5.0 0a2.5 2.5 0 1 0 -5.0 0M947.5 614.7a2.5 2.5 0 1 0 5.0 0a2.5 2.5 0 1 0 -5.0 0M947.8 615.3a2.5 2.5 0 1 0 5.0 0a2.5 2.5 0 1 0 -5.0 0M948.0 614.9a2.5 2.5 0 1 0 5.0 0a2.5 2.5 0 1 0 -5.0 0M948.3 614.9a2.5 2.5 0 1 0 5.0 0a2.5 2.5 0 1 0 -5.0 0M948.6 615.3a2.5 2.5 0 1 0 5.0 0a2.5 2.5 0 1 0 -5.0 0M948.8 614.9a2.5 2.5 0 1 0 5.0 0a2.5 2.5 0 1 0 -5.0 0M949.1 614.8a2.5 2.5 0 1 0 5.0 0a2.5 2.5 0 1 0 -5.0 0M949.3 615.2a2.5 2.5 0 1 0 5.0 0a2.5 2.5 0 1 0 -5.0 0M949.6 614.8a2.5 2.5 0 1 0 5.0 0a2.5 2.5 0 1 0 -5.0 0M949.9 614.8a2.5 2.5 0 1 0 5.0 0a2.5 2.5 0 1 0 -5.0 0M950.1 615.3a2.5 2.5 0 1 0 5.0 0a2.5 2.5 0 1 0 -5.0 0M950.4 614.8a2.5 2.5 0 1 0 5.0 0a2.5 2.5 0 1 0 -5.0 0M950.6 615.2a2.5 2.5 0 1 0 5.0 0a2.5 2.5 0 1 0 -5.0 0M950.9 614.9a2.5 2.5 0 1 0 5.0 0a2.5 2.5 0 1 0 -5.0 0M951.2 614.9a2.5 2.5 0 1 0 5.0 0a2.5 2.5 0 1 0 -5.0 0M951.4 614.8a2.5 2.5 0 1 0 5.0 0a2.5 2.5 0 1 0 -5.0 0M951.7 615.0a2.5 2.5 0 1 0 5.0 0a2.5 2.5 0 1 0 -5.0 0M951.9 615.0a2.5 2.5 0 1 0 5.0 0a2.5 2.5 0 1 0 -5.0 0M952.2 614.9a2.5 2.5 0 1 0 5.0 0a2.5 2.5 0 1 0 -5.0 0M952.5 615.0a2.5 2.5 0 1 0 5.0 0a2.5 2.5 0 1 0 -5.0 0M952.5 615.0a2.5 2.5 0 1 0 5.0 0a2.5 2.5 0 1 0 -5.0 0" stroke="#008000" stroke-width="1.6" fill="none"/>
<rect x="95.7" y="4.5" width="937.8" height="658.5" fill="none" stroke="#000" stroke-width="3"/>
<path d="M162.8 663.0V655.5M229.7 663.0V650.0M296.7 663.0V655.5M363.6 663.0V650.0M430.6 663.0V655.5M497.5 663.0V650.0M564.5 663.0V655.5M631.4 663.0V650.0M698.4 663.0V655.5M765.3 663.0V650.0M832.2 663.0V655.5M899.2 663.0V650.0M966.1 663.0V655.5M95.7 615.0H109.2M95.7 567.5H103.7M95.7 520.0H109.2M95.7 472.5H103.7M95.7 425.0H109.2M95.7 377.5H103.7M95.7 330.0H109.2M95.7 282.5H103.7M95.7 235.0H109.2M95.7 187.5H103.7M95.7 140.0H109.2M95.7 92.5H103.7M95.7 45.0H109.2" stroke="#000" stroke-width="3" fill="none"/>
<text x="82" y="622.3" font-size="32" text-anchor="end">0</text>
<text x="82" y="527.3" font-size="32" text-anchor="end">2</text>
<text x="82" y="432.3" font-size="32" text-anchor="end">4</text>
<text x="82" y="337.3" font-size="32" text-anchor="end">6</text>
<text x="82" y="242.3" font-size="32" text-anchor="end">8</text>
<text x="82" y="147.3" font-size="32" text-anchor="end">10</text>
<text x="82" y="52.3" font-size="32" text-anchor="end">12</text>
<text x="93.1" y="700.3" font-size="32" text-anchor="middle">0</text>
<text x="227.0" y="700.3" font-size="32" text-anchor="middle">2</text>
<text x="360.9" y="700.3" font-size="32" text-anchor="middle">4</text>
<text x="494.8" y="700.3" font-size="32" text-anchor="middle">6</text>
<text x="628.7" y="700.3" font-size="32" text-anchor="middle">8</text>
<text x="762.6" y="700.3" font-size="32" text-anchor="middle">10</text>
<text x="896.5" y="700.3" font-size="32" text-anchor="middle">12</text>
<text x="1030.4" y="700.3" font-size="32" text-anchor="middle">14</text>
<text x="467.6" y="745.4" font-size="34.6" textLength="193.3" lengthAdjust="spacingAndGlyphs">Diameter (A)</text>
<g transform="translate(38.9 0) rotate(-90)" font-size="33.7"><text x="-517.6" y="0">Number of voids</text><text x="-263.1" y="0">(</text><text x="-250.4" y="0">10</text><text x="-214.6" y="-20.4" font-size="20">20</text><text x="-182.1" y="0">cm</text><text x="-138.3" y="-20.4" font-size="20">-3</text><text x="-118.5" y="0">)</text></g>
<text transform="translate(115.3 59.8) scale(0.82 1)" font-size="51.5" font-weight="bold" stroke="#000" stroke-width="1.6" stroke-linejoin="round">a</text>
<text transform="translate(146.2 58.3) scale(0.82 1)" font-size="53.6" font-weight="bold" stroke="#000" stroke-width="1.3" stroke-linejoin="round">)</text>
<text x="263.3" y="22.6" font-size="24">He</text>
<path d="M267.9 26.8V50.2" stroke="#000" stroke-width="2"/><path d="M264.0 48.2H271.79999999999995V53.2L270.09999999999997 54.7V59.2L269.2 62.5H266.59999999999997L265.7 59.2V54.7L264.0 53.2Z" fill="#000"/>
<text x="286.8" y="47.6" font-size="24">Ne</text>
<path d="M286.3 46.4V69.8" stroke="#000" stroke-width="2"/><path d="M282.40000000000003 67.8H290.2V72.8L288.5 74.3V78.8L287.6 82.1H285.0L284.1 78.8V74.3L282.40000000000003 72.8Z" fill="#000"/>
<text x="327" y="363.3" font-size="24">Ar</text>
<path d="M325.2 370.9V397.0" stroke="#000" stroke-width="2"/><path d="M321.3 395.0H329.09999999999997V400.0L327.4 401.5V406.0L326.5 409.3H323.9L323.0 406.0V401.5L321.3 400.0Z" fill="#000"/>
<text x="355.9" y="473" font-size="24">Kr</text>
<path d="M362.4 485.4V509.2" stroke="#000" stroke-width="2"/><path d="M358.5 507.2H366.29999999999995V512.2L364.59999999999997 513.7V518.2L363.7 521.5H361.09999999999997L360.2 518.2V513.7L358.5 512.2Z" fill="#000"/>
<text x="379.4" y="510" font-size="24">Xe</text>
<path d="M383.7 526.1V549.9000000000001" stroke="#000" stroke-width="2"/><path d="M379.8 547.9000000000001H387.59999999999997V552.9000000000001L385.9 554.4000000000001V558.9000000000001L385.0 562.2H382.4L381.5 558.9000000000001V554.4000000000001L379.8 552.9000000000001Z" fill="#000"/>
<path d="M578 31.5H635" stroke="#ff0000" stroke-width="1.6"/>
<circle cx="607" cy="31.5" r="6.6" fill="#fff" stroke="#ff0000" stroke-width="1.7"/>
<path d="M578 64H636" stroke="#008000" stroke-width="1.8"/>
<circle cx="607" cy="64" r="2.5" fill="#fff" stroke="#008000" stroke-width="1.6"/>
<text x="641.5" y="39.5" font-size="25.4" textLength="88.1" lengthAdjust="spacingAndGlyphs">Pristine</text>
<text x="642.9" y="72.5" font-size="26.1" textLength="371" lengthAdjust="spacingAndGlyphs">After 300 cascades of 4 KeV Xe</text>
<rect x="543.2" y="103.0" width="426.5999999999999" height="434.0" fill="#fff"/>
<clipPath id="ic"><rect x="543.2" y="103.0" width="426.5999999999999" height="434.0"/></clipPath>
<g clip-path="url(#ic)"><path d="M543.2 513.5H692.8184" stroke="#ff0000" stroke-width="6.5"/>
<path d="M541.20 513.5L545.05 513.5L545.60 315.8L546.15 513.5L547.25 513.5L547.80 315.8L548.35 513.5L550.55 513.5L551.10 249.9L551.65 513.5L552.20 315.8L552.75 513.5L553.85 513.5L554.40 315.8L554.95 315.8L555.50 513.5L556.60 513.5L557.15 447.6L557.70 513.5L563.75 513.5L564.30 447.6L564.85 513.5L565.40 513.5L565.95 447.6L566.50 513.5L569.25 513.5L569.80 447.6L570.35 513.5L570.90 447.6L571.45 513.5L572.55 513.5L573.10 381.7L573.65 513.5L574.20 513.5L574.75 447.6L575.30 381.7L575.85 513.5L578.60 513.5L579.15 447.6L579.70 513.5L580.25 447.6L580.80 513.5L586.30 513.5L586.85 447.6L587.40 513.5L587.95 447.6L588.50 513.5L589.05 447.6L589.60 513.5L590.15 447.6L590.70 513.5L591.25 447.6L591.80 513.5L592.35 447.6L592.90 513.5L593.45 447.6L594.00 513.5L595.10 513.5L595.65 447.6L596.20 513.5L598.40 513.5L598.95 447.6L599.50 513.5L600.60 513.5L601.15 447.6L601.70 513.5L602.25 447.6L602.80 513.5L603.35 447.6L603.90 513.5L604.45 381.7L605.00 513.5L605.55 447.6L606.10 513.5L606.65 447.6L607.20 513.5L607.75 447.6L608.30 513.5L610.50 513.5L611.05 447.6L611.60 513.5L614.90 513.5L615.45 447.6L616.00 513.5L617.10 513.5L617.65 447.6L618.20 513.5L619.30 513.5L619.85 447.6L620.40 513.5L623.70 513.5L624.25 447.6L624.80 513.5L625.35 447.6L625.90 513.5L626.45 447.6L627.00 513.5L627.55 447.6L628.10 513.5L631.40 513.5L631.95 447.6L632.50 513.5L633.05 447.6L633.60 513.5L634.70 513.5L635.25 447.6L635.80 513.5L689.70 513.5L690.25 447.6L690.80 513.5L693.00 513.5" stroke="#ff0000" stroke-width="1.6" fill="none" stroke-linejoin="bevel"/>
<path d="M554.4 447.6a2.8 2.8 0 1 0 5.6 0a2.8 2.8 0 1 0 -5.6 0M570.3 381.7a2.8 2.8 0 1 0 5.6 0a2.8 2.8 0 1 0 -5.6 0M584.1 447.6a2.8 2.8 0 1 0 5.6 0a2.8 2.8 0 1 0 -5.6 0M592.9 447.6a2.8 2.8 0 1 0 5.6 0a2.8 2.8 0 1 0 -5.6 0M598.4 447.6a2.8 2.8 0 1 0 5.6 0a2.8 2.8 0 1 0 -5.6 0M599.5 447.6a2.8 2.8 0 1 0 5.6 0a2.8 2.8 0 1 0 -5.6 0" stroke="#ff0000" stroke-width="1.4" fill="none"/>
<path d="M583 513.5H959.537" stroke="#008000" stroke-width="4"/>
<path d="M541.20 315.8L543.30 118.1L543.90 381.7L545.30 315.8L546.30 447.6L547.50 315.8L548.90 -79.6L549.90 118.1L553.70 118.1L554.30 -79.6L555.10 118.1L556.00 118.1L556.40 447.6L557.00 151.0L557.60 414.6L558.50 118.1L559.20 381.7L560.00 249.9L561.00 434.4L562.00 249.9L563.00 381.7L564.20 249.9L565.20 355.3L566.20 249.9L567.20 447.6L568.50 315.8L569.60 414.6L571.00 249.9L572.00 381.7L573.00 249.9L574.00 447.6L575.00 249.9L576.00 368.5L577.00 249.9L578.00 249.9L579.00 447.6L580.00 315.8L581.00 447.6L582.00 315.8L583.00 513.5L583.55 381.7L584.10 513.5L584.65 315.8L585.20 513.5L585.75 315.8L586.30 513.5L586.85 381.7L587.40 513.5L587.95 315.8L588.50 513.5L589.05 315.8L589.60 513.5L590.15 381.7L590.70 513.5L591.25 315.8L591.80 513.5L592.35 381.7L592.90 513.5L593.45 315.8L594.00 513.5L595.10 513.5L595.65 381.7L596.20 513.5L596.75 315.8L597.30 513.5L597.85 315.8L598.40 315.8L598.95 315.8L599.50 513.5L600.60 513.5L601.15 447.6L601.70 513.5L602.25 447.6L602.80 513.5L603.35 447.6L603.90 513.5L604.45 447.6L605.00 513.5L605.55 381.7L606.10 513.5L606.65 447.6L607.20 513.5L607.75 447.6L608.30 513.5L608.85 447.6L609.40 513.5L609.95 381.7L610.50 513.5L611.05 447.6L611.60 513.5L612.15 447.6L612.70 513.5L613.25 447.6L613.80 513.5L614.35 447.6L614.90 513.5L615.45 381.7L616.00 315.8L616.55 381.7L617.10 513.5L618.20 513.5L618.75 381.7L619.30 513.5L619.85 447.6L620.40 513.5L620.95 381.7L621.50 513.5L622.05 447.6L622.60 513.5L623.15 447.6L623.70 513.5L624.25 447.6L624.80 513.5L625.35 381.7L625.90 513.5L627.00 513.5L627.55 381.7L628.10 513.5L628.65 381.7L629.20 513.5L629.75 381.7L630.30 513.5L630.85 447.6L631.40 513.5L632.50 513.5L633.05 447.6L633.60 513.5L634.15 447.6L634.70 513.5L635.25 447.6L635.80 513.5L636.35 447.6L636.90 513.5L638.00 513.5L638.55 447.6L639.10 513.5L639.65 447.6L640.20 513.5L640.75 447.6L641.30 513.5L643.50 513.5L644.05 447.6L644.60 513.5L645.15 447.6L645.70 513.5L646.25 447.6L646.80 513.5L647.35 447.6L647.90 513.5L648.45 447.6L649.00 513.5L651.20 513.5L651.75 447.6L652.30 513.5L652.85 447.6L653.40 513.5L653.95 447.6L654.50 513.5L655.05 447.6L655.60 513.5L656.15 447.6L656.70 381.7L657.25 447.6L657.80 513.5L660.00 513.5L660.55 447.6L661.10 513.5L662.20 513.5L662.75 447.6L663.30 513.5L666.60 513.5L667.15 447.6L667.70 513.5L675.95 513.5L676.50 447.6L677.05 513.5L678.70 513.5L679.25 447.6L679.80 513.5L680.35 447.6L680.90 513.5L681.45 447.6L682.00 513.5L683.10 513.5L683.65 447.6L684.20 513.5L687.50 513.5L688.05 447.6L688.60 513.5L693.00 513.5L693.55 447.6L694.10 513.5L697.40 513.5L697.95 447.6L698.50 513.5L704.00 513.5L704.55 447.6L705.10 447.6L705.65 447.6L706.20 447.6L706.75 447.6L707.30 513.5L712.25 513.5L712.80 447.6L713.35 513.5L738.65 513.5L739.20 447.6L739.75 513.5L740.30 447.6L740.85 447.6L741.40 447.6L741.95 447.6L742.50 447.6L743.05 447.6L743.60 447.6L744.15 513.5L744.70 513.5L745.25 447.6L745.80 513.5L749.65 513.5L750.20 447.6L750.75 513.5L770.00 513.5L770.55 447.6L771.10 513.5L810.70 513.5L811.25 447.6L811.80 447.6L812.35 447.6L812.90 447.6L813.45 447.6L814.00 447.6L814.55 513.5L815.10 447.6L815.65 447.6L816.20 447.6L816.75 447.6L817.30 447.6L817.85 447.6L818.40 447.6L818.95 447.6L819.50 447.6L820.05 513.5L834.35 513.5L834.90 447.6L835.45 513.5L869.55 513.5L870.10 447.6L870.65 513.5L878.35 513.5L878.90 447.6L879.45 513.5L922.35 513.5L922.90 447.6L923.45 513.5L958.65 513.5L959.20 447.6" stroke="#008000" stroke-width="1.5" fill="none" stroke-linejoin="bevel"/>
<path d="M547.5 -79.6a1.4 1.4 0 1 0 2.8 0a1.4 1.4 0 1 0 -2.8 0M554.6 118.1a1.4 1.4 0 1 0 2.8 0a1.4 1.4 0 1 0 -2.8 0M555.6 151.0a1.4 1.4 0 1 0 2.8 0a1.4 1.4 0 1 0 -2.8 0M557.8 381.7a1.4 1.4 0 1 0 2.8 0a1.4 1.4 0 1 0 -2.8 0M558.6 249.9a1.4 1.4 0 1 0 2.8 0a1.4 1.4 0 1 0 -2.8 0M559.6 434.4a1.4 1.4 0 1 0 2.8 0a1.4 1.4 0 1 0 -2.8 0M562.8 249.9a1.4 1.4 0 1 0 2.8 0a1.4 1.4 0 1 0 -2.8 0M564.8 249.9a1.4 1.4 0 1 0 2.8 0a1.4 1.4 0 1 0 -2.8 0M567.1 315.8a1.4 1.4 0 1 0 2.8 0a1.4 1.4 0 1 0 -2.8 0M568.2 414.6a1.4 1.4 0 1 0 2.8 0a1.4 1.4 0 1 0 -2.8 0M570.6 381.7a1.4 1.4 0 1 0 2.8 0a1.4 1.4 0 1 0 -2.8 0M571.6 249.9a1.4 1.4 0 1 0 2.8 0a1.4 1.4 0 1 0 -2.8 0M574.6 368.5a1.4 1.4 0 1 0 2.8 0a1.4 1.4 0 1 0 -2.8 0M578.6 315.8a1.4 1.4 0 1 0 2.8 0a1.4 1.4 0 1 0 -2.8 0M584.4 315.8a1.4 1.4 0 1 0 2.8 0a1.4 1.4 0 1 0 -2.8 0M586.6 315.8a1.4 1.4 0 1 0 2.8 0a1.4 1.4 0 1 0 -2.8 0M587.7 315.8a1.4 1.4 0 1 0 2.8 0a1.4 1.4 0 1 0 -2.8 0M588.8 381.7a1.4 1.4 0 1 0 2.8 0a1.4 1.4 0 1 0 -2.8 0M592.1 315.8a1.4 1.4 0 1 0 2.8 0a1.4 1.4 0 1 0 -2.8 0M603.1 447.6a1.4 1.4 0 1 0 2.8 0a1.4 1.4 0 1 0 -2.8 0M605.3 447.6a1.4 1.4 0 1 0 2.8 0a1.4 1.4 0 1 0 -2.8 0M608.6 381.7a1.4 1.4 0 1 0 2.8 0a1.4 1.4 0 1 0 -2.8 0M613.0 447.6a1.4 1.4 0 1 0 2.8 0a1.4 1.4 0 1 0 -2.8 0M614.1 381.7a1.4 1.4 0 1 0 2.8 0a1.4 1.4 0 1 0 -2.8 0M614.6 315.8a1.4 1.4 0 1 0 2.8 0a1.4 1.4 0 1 0 -2.8 0M617.4 381.7a1.4 1.4 0 1 0 2.8 0a1.4 1.4 0 1 0 -2.8 0M627.3 381.7a1.4 1.4 0 1 0 2.8 0a1.4 1.4 0 1 0 -2.8 0M632.8 447.6a1.4 1.4 0 1 0 2.8 0a1.4 1.4 0 1 0 -2.8 0M635.0 447.6a1.4 1.4 0 1 0 2.8 0a1.4 1.4 0 1 0 -2.8 0M650.4 447.6a1.4 1.4 0 1 0 2.8 0a1.4 1.4 0 1 0 -2.8 0M651.5 447.6a1.4 1.4 0 1 0 2.8 0a1.4 1.4 0 1 0 -2.8 0M652.6 447.6a1.4 1.4 0 1 0 2.8 0a1.4 1.4 0 1 0 -2.8 0M655.3 381.7a1.4 1.4 0 1 0 2.8 0a1.4 1.4 0 1 0 -2.8 0M655.9 447.6a1.4 1.4 0 1 0 2.8 0a1.4 1.4 0 1 0 -2.8 0M675.1 447.6a1.4 1.4 0 1 0 2.8 0a1.4 1.4 0 1 0 -2.8 0M686.7 447.6a1.4 1.4 0 1 0 2.8 0a1.4 1.4 0 1 0 -2.8 0M696.6 447.6a1.4 1.4 0 1 0 2.8 0a1.4 1.4 0 1 0 -2.8 0M703.2 447.6a1.4 1.4 0 1 0 2.8 0a1.4 1.4 0 1 0 -2.8 0M703.7 447.6a1.4 1.4 0 1 0 2.8 0a1.4 1.4 0 1 0 -2.8 0M704.3 447.6a1.4 1.4 0 1 0 2.8 0a1.4 1.4 0 1 0 -2.8 0M704.8 447.6a1.4 1.4 0 1 0 2.8 0a1.4 1.4 0 1 0 -2.8 0M705.4 447.6a1.4 1.4 0 1 0 2.8 0a1.4 1.4 0 1 0 -2.8 0M711.4 447.6a1.4 1.4 0 1 0 2.8 0a1.4 1.4 0 1 0 -2.8 0M737.8 447.6a1.4 1.4 0 1 0 2.8 0a1.4 1.4 0 1 0 -2.8 0M738.9 447.6a1.4 1.4 0 1 0 2.8 0a1.4 1.4 0 1 0 -2.8 0M739.5 447.6a1.4 1.4 0 1 0 2.8 0a1.4 1.4 0 1 0 -2.8 0M740.0 447.6a1.4 1.4 0 1 0 2.8 0a1.4 1.4 0 1 0 -2.8 0M740.6 447.6a1.4 1.4 0 1 0 2.8 0a1.4 1.4 0 1 0 -2.8 0M741.1 447.6a1.4 1.4 0 1 0 2.8 0a1.4 1.4 0 1 0 -2.8 0M741.7 447.6a1.4 1.4 0 1 0 2.8 0a1.4 1.4 0 1 0 -2.8 0M742.2 447.6a1.4 1.4 0 1 0 2.8 0a1.4 1.4 0 1 0 -2.8 0M743.9 447.6a1.4 1.4 0 1 0 2.8 0a1.4 1.4 0 1 0 -2.8 0M748.8 447.6a1.4 1.4 0 1 0 2.8 0a1.4 1.4 0 1 0 -2.8 0M769.2 447.6a1.4 1.4 0 1 0 2.8 0a1.4 1.4 0 1 0 -2.8 0M809.9 447.6a1.4 1.4 0 1 0 2.8 0a1.4 1.4 0 1 0 -2.8 0M810.4 447.6a1.4 1.4 0 1 0 2.8 0a1.4 1.4 0 1 0 -2.8 0M811.0 447.6a1.4 1.4 0 1 0 2.8 0a1.4 1.4 0 1 0 -2.8 0M811.5 447.6a1.4 1.4 0 1 0 2.8 0a1.4 1.4 0 1 0 -2.8 0M812.1 447.6a1.4 1.4 0 1 0 2.8 0a1.4 1.4 0 1 0 -2.8 0M812.6 447.6a1.4 1.4 0 1 0 2.8 0a1.4 1.4 0 1 0 -2.8 0M813.7 447.6a1.4 1.4 0 1 0 2.8 0a1.4 1.4 0 1 0 -2.8 0M814.3 447.6a1.4 1.4 0 1 0 2.8 0a1.4 1.4 0 1 0 -2.8 0M814.8 447.6a1.4 1.4 0 1 0 2.8 0a1.4 1.4 0 1 0 -2.8 0M815.4 447.6a1.4 1.4 0 1 0 2.8 0a1.4 1.4 0 1 0 -2.8 0M815.9 447.6a1.4 1.4 0 1 0 2.8 0a1.4 1.4 0 1 0 -2.8 0M816.5 447.6a1.4 1.4 0 1 0 2.8 0a1.4 1.4 0 1 0 -2.8 0M817.0 447.6a1.4 1.4 0 1 0 2.8 0a1.4 1.4 0 1 0 -2.8 0M817.6 447.6a1.4 1.4 0 1 0 2.8 0a1.4 1.4 0 1 0 -2.8 0M818.1 447.6a1.4 1.4 0 1 0 2.8 0a1.4 1.4 0 1 0 -2.8 0M833.5 447.6a1.4 1.4 0 1 0 2.8 0a1.4 1.4 0 1 0 -2.8 0M868.7 447.6a1.4 1.4 0 1 0 2.8 0a1.4 1.4 0 1 0 -2.8 0M877.5 447.6a1.4 1.4 0 1 0 2.8 0a1.4 1.4 0 1 0 -2.8 0M921.5 447.6a1.4 1.4 0 1 0 2.8 0a1.4 1.4 0 1 0 -2.8 0M957.8 447.6a1.4 1.4 0 1 0 2.8 0a1.4 1.4 0 1 0 -2.8 0" stroke="#008000" stroke-width="1.3" fill="none"/>
<circle cx="959.537" cy="513.5" r="1.4" fill="#fff" stroke="#008000" stroke-width="1.3"/></g>
<rect x="543.2" y="103.0" width="426.5999999999999" height="434.0" fill="none" stroke="#000" stroke-width="2"/>
<path d="M587.0 537.0V534.0M650.9 537.0V531.5M714.8 537.0V534.0M778.7 537.0V531.5M842.6 537.0V534.0M906.5 537.0V531.5M970.4 537.0V534.0M543.2 513.5H548.7M543.2 464.7H546.2M543.2 415.9H548.7M543.2 367.1H546.2M543.2 318.3H548.7M543.2 269.5H546.2M543.2 220.7H548.7M543.2 171.9H546.2M543.2 123.1H548.7" stroke="#000" stroke-width="2" fill="none"/>
<text x="533.6" y="519.1" font-size="24" text-anchor="end">0</text>
<text x="533.6" y="421.5" font-size="24" text-anchor="end">10</text>
<text x="533.6" y="323.9" font-size="24" text-anchor="end">20</text>
<text x="533.6" y="226.3" font-size="24" text-anchor="end">30</text>
<text x="533.6" y="128.7" font-size="24" text-anchor="end">40</text>
<text x="650.3" y="564" font-size="25" text-anchor="middle">8</text>
<text x="778.1" y="564" font-size="25" text-anchor="middle">10</text>
<text x="905.9" y="564" font-size="25" text-anchor="middle">12</text>
<text x="680.8" y="595.1" font-size="26.4">Diameter (A)</text>
<g transform="translate(489.1 0) rotate(-90)"><text x="-461.5" y="0" font-size="25.4" textLength="190.7" lengthAdjust="spacingAndGlyphs">Number of voids</text><text x="-236.4" y="0" font-size="25">10</text><text x="-205.9" y="-13.7" font-size="14">17</text><text x="-181.6" y="0" font-size="25">cm</text><text x="-148.4" y="-13.7" font-size="14">-3</text></g>
<path d="M1138.2 12.3H1493.2" stroke="#000" stroke-width="3"/>
<path d="M1138.2 677.5H1493.2" stroke="#000" stroke-width="3"/>
<path d="M1138.2 10.8V679.0M1493.2 10.8V679.0" stroke="#000" stroke-width="2.2"/>
<path d="M1162.2 677.5V665.0M1213.2 677.5V671.0M1264.3 677.5V665.0M1315.3 677.5V671.0M1366.3 677.5V665.0M1417.4 677.5V671.0M1468.4 677.5V665.0M1138.2 609.5H1149.5M1138.2 543.2H1143.2M1138.2 476.9H1149.5M1138.2 410.6H1143.2M1138.2 344.3H1149.5M1138.2 278.0H1143.2M1138.2 211.7H1149.5M1138.2 145.4H1143.2M1138.2 79.1H1149.5" stroke="#000" stroke-width="2.2" fill="none"/>
<text x="1080.2" y="616.7" font-size="24.6" textLength="44.5" lengthAdjust="spacingAndGlyphs">0.10</text>
<text x="1080.2" y="484.1" font-size="24.6" textLength="44.5" lengthAdjust="spacingAndGlyphs">0.11</text>
<text x="1080.2" y="351.5" font-size="24.6" textLength="44.5" lengthAdjust="spacingAndGlyphs">0.12</text>
<text x="1080.2" y="218.9" font-size="24.6" textLength="44.5" lengthAdjust="spacingAndGlyphs">0.13</text>
<text x="1080.2" y="86.3" font-size="24.6" textLength="44.5" lengthAdjust="spacingAndGlyphs">0.14</text>
<text x="1155.4" y="711" font-size="24.2" textLength="12.1" lengthAdjust="spacingAndGlyphs">0</text>
<text x="1245.3" y="711" font-size="24.2" textLength="36.3" lengthAdjust="spacingAndGlyphs">100</text>
<text x="1347.4" y="711" font-size="24.2" textLength="36.3" lengthAdjust="spacingAndGlyphs">200</text>
<text x="1449.5" y="711" font-size="24.2" textLength="36.3" lengthAdjust="spacingAndGlyphs">300</text>
<text x="1188" y="741.7" font-size="26.4" textLength="253.2" lengthAdjust="spacingAndGlyphs">Total number of cascades</text>
<text transform="translate(1065.5 516.8) rotate(-90)" font-size="27.5" textLength="378.7" lengthAdjust="spacingAndGlyphs">Volume fraction available to Xe</text>
<text transform="translate(1151.1 64.4) scale(0.92 1)" font-size="54.4" font-weight="bold" stroke="#000" stroke-width="1.4" stroke-linejoin="round">b</text>
<text transform="translate(1184.7 62.9) scale(0.78 1)" font-size="53.6" font-weight="bold" stroke="#000" stroke-width="1.3" stroke-linejoin="round">)</text>
<path d="M1155.7 615.3h14.4v16.8h-14.4zM1176.1 593.6h14.4v16.8h-14.4zM1196.5 515.8h14.4v16.8h-14.4zM1216.9 432.5h14.4v16.8h-14.4zM1237.4 378.9h14.4v16.8h-14.4zM1257.8 284.9h14.4v16.8h-14.4zM1278.2 222.6h14.4v16.8h-14.4zM1298.6 179.3h14.4v16.8h-14.4zM1319.0 136.6h14.4v16.8h-14.4zM1339.4 96.9h14.4v16.8h-14.4zM1359.8 81.8h14.4v16.8h-14.4zM1380.3 69.2h14.4v16.8h-14.4zM1400.7 66.7h14.4v16.8h-14.4zM1421.1 55.6h14.4v16.8h-14.4zM1441.5 62.7h14.4v16.8h-14.4zM1461.9 70.7h14.4v16.8h-14.4z" stroke="#ff0000" stroke-width="1.8" fill="none"/>
</svg>
</body></html>
